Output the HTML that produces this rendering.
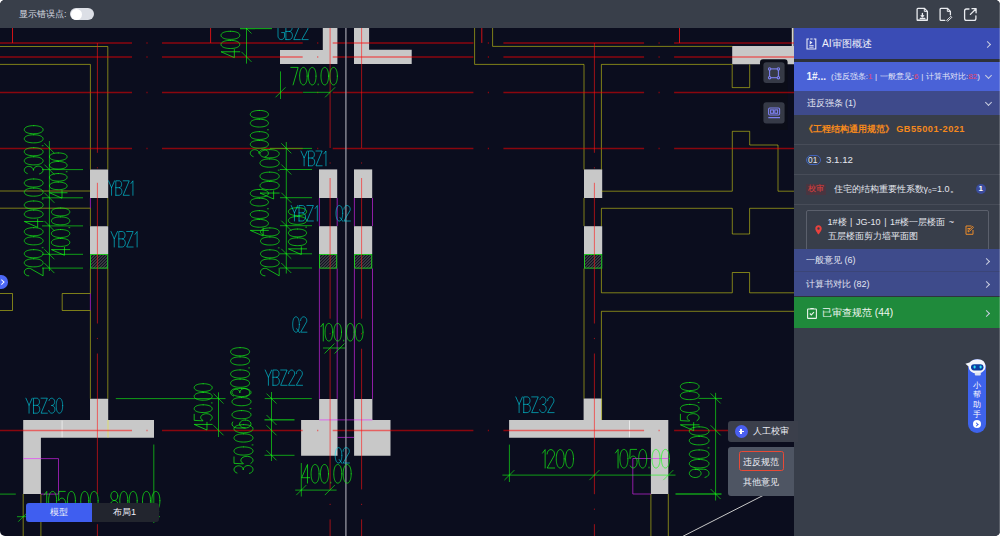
<!DOCTYPE html>
<html><head><meta charset="utf-8">
<style>
*{margin:0;padding:0;box-sizing:border-box}
html,body{width:1000px;height:536px;overflow:hidden;background:#fff}
body{font-family:"Liberation Sans",sans-serif;position:relative}
#app{position:absolute;left:0;top:0;width:1000px;height:536px;border-radius:5px;overflow:hidden;background:#0b0d1e}
.abs{position:absolute}
#top{left:0;top:0;width:1000px;height:28px;background:#393f4a}
#cad{left:0;top:0}
#panel{left:794px;top:28px;width:206px;height:508px;background:#383e4a}
.t{position:absolute;white-space:nowrap;line-height:1}
.chev{position:absolute;width:5px;height:5px;border-right:1.1px solid #c9cde0;border-top:1.1px solid #c9cde0;transform:rotate(45deg)}
.chevd{position:absolute;width:5px;height:5px;border-right:1.1px solid #c9cde0;border-bottom:1.1px solid #c9cde0;transform:rotate(45deg)}
.sep{position:absolute;left:0;width:206px;height:1px;background:#474c58}
</style></head><body>
<div id="app">
<svg id="cad" class="abs" width="1000" height="536" viewBox="0 0 1000 536">
<path d="M280 50 L322.8 50 L322.8 27 L337.4 27 L337.4 64.1 L280 64.1 Z" fill="#c8c8c8"/>
<path d="M354 27 L369.1 27 L369.1 49.7 L411.7 49.7 L411.7 64.1 L354 64.1 Z" fill="#c8c8c8"/>
<path d="M732.2 46 L795 46 L795 64.3 L732.2 64.3 Z" fill="#c8c8c8"/>
<line x1="792.7" y1="28" x2="792.7" y2="46" stroke="#d4d4cc" stroke-width="1.8"/>
<path d="M90 169.4 L108.2 169.4 L108.2 198 L90 198 Z" fill="#c8c8c8"/>
<path d="M90 226.2 L108.2 226.2 L108.2 254 L90 254 Z" fill="#c8c8c8"/>
<rect x="90" y="254" width="18.2" height="14.6" fill="#11131f"/>
<clipPath id="h90_254"><rect x="90" y="254" width="18.2" height="14.6"/></clipPath>
<path d="M60 268.6 L74.6 254 M63 268.6 L77.6 254 M66 268.6 L80.6 254 M69 268.6 L83.6 254 M72 268.6 L86.6 254 M75 268.6 L89.6 254 M78 268.6 L92.6 254 M81 268.6 L95.6 254 M84 268.6 L98.6 254 M87 268.6 L101.6 254 M90 268.6 L104.6 254 M93 268.6 L107.6 254 M96 268.6 L110.6 254 M99 268.6 L113.6 254 M102 268.6 L116.6 254 M105 268.6 L119.6 254 M108 268.6 L122.6 254 M111 268.6 L125.6 254 M114 268.6 L128.6 254 M117 268.6 L131.6 254 M120 268.6 L134.6 254 M123 268.6 L137.6 254 M126 268.6 L140.6 254 M129 268.6 L143.6 254" stroke="#74747a" stroke-width="0.75" clip-path="url(#h90_254)"/>
<rect x="90.5" y="254.5" width="17.2" height="13.6" fill="none" stroke="#22c422" stroke-width="1"/>
<path d="M319 169.4 L337.2 169.4 L337.2 198 L319 198 Z" fill="#c8c8c8"/>
<path d="M319 226.2 L337.2 226.2 L337.2 254 L319 254 Z" fill="#c8c8c8"/>
<rect x="319" y="254" width="18.2" height="14.6" fill="#11131f"/>
<clipPath id="h319_254"><rect x="319" y="254" width="18.2" height="14.6"/></clipPath>
<path d="M289 268.6 L303.6 254 M292 268.6 L306.6 254 M295 268.6 L309.6 254 M298 268.6 L312.6 254 M301 268.6 L315.6 254 M304 268.6 L318.6 254 M307 268.6 L321.6 254 M310 268.6 L324.6 254 M313 268.6 L327.6 254 M316 268.6 L330.6 254 M319 268.6 L333.6 254 M322 268.6 L336.6 254 M325 268.6 L339.6 254 M328 268.6 L342.6 254 M331 268.6 L345.6 254 M334 268.6 L348.6 254 M337 268.6 L351.6 254 M340 268.6 L354.6 254 M343 268.6 L357.6 254 M346 268.6 L360.6 254 M349 268.6 L363.6 254 M352 268.6 L366.6 254 M355 268.6 L369.6 254 M358 268.6 L372.6 254" stroke="#74747a" stroke-width="0.75" clip-path="url(#h319_254)"/>
<rect x="319.5" y="254.5" width="17.2" height="13.6" fill="none" stroke="#22c422" stroke-width="1"/>
<path d="M354 169.4 L372.2 169.4 L372.2 198 L354 198 Z" fill="#c8c8c8"/>
<path d="M354 226.2 L372.2 226.2 L372.2 254 L354 254 Z" fill="#c8c8c8"/>
<rect x="354" y="254" width="18.2" height="14.6" fill="#11131f"/>
<clipPath id="h354_254"><rect x="354" y="254" width="18.2" height="14.6"/></clipPath>
<path d="M324 268.6 L338.6 254 M327 268.6 L341.6 254 M330 268.6 L344.6 254 M333 268.6 L347.6 254 M336 268.6 L350.6 254 M339 268.6 L353.6 254 M342 268.6 L356.6 254 M345 268.6 L359.6 254 M348 268.6 L362.6 254 M351 268.6 L365.6 254 M354 268.6 L368.6 254 M357 268.6 L371.6 254 M360 268.6 L374.6 254 M363 268.6 L377.6 254 M366 268.6 L380.6 254 M369 268.6 L383.6 254 M372 268.6 L386.6 254 M375 268.6 L389.6 254 M378 268.6 L392.6 254 M381 268.6 L395.6 254 M384 268.6 L398.6 254 M387 268.6 L401.6 254 M390 268.6 L404.6 254 M393 268.6 L407.6 254" stroke="#74747a" stroke-width="0.75" clip-path="url(#h354_254)"/>
<rect x="354.5" y="254.5" width="17.2" height="13.6" fill="none" stroke="#22c422" stroke-width="1"/>
<path d="M584 169.4 L602.2 169.4 L602.2 198 L584 198 Z" fill="#c8c8c8"/>
<path d="M584 226.2 L602.2 226.2 L602.2 254 L584 254 Z" fill="#c8c8c8"/>
<rect x="584" y="254" width="18.2" height="14.6" fill="#11131f"/>
<clipPath id="h584_254"><rect x="584" y="254" width="18.2" height="14.6"/></clipPath>
<path d="M554 268.6 L568.6 254 M557 268.6 L571.6 254 M560 268.6 L574.6 254 M563 268.6 L577.6 254 M566 268.6 L580.6 254 M569 268.6 L583.6 254 M572 268.6 L586.6 254 M575 268.6 L589.6 254 M578 268.6 L592.6 254 M581 268.6 L595.6 254 M584 268.6 L598.6 254 M587 268.6 L601.6 254 M590 268.6 L604.6 254 M593 268.6 L607.6 254 M596 268.6 L610.6 254 M599 268.6 L613.6 254 M602 268.6 L616.6 254 M605 268.6 L619.6 254 M608 268.6 L622.6 254 M611 268.6 L625.6 254 M614 268.6 L628.6 254 M617 268.6 L631.6 254 M620 268.6 L634.6 254 M623 268.6 L637.6 254" stroke="#74747a" stroke-width="0.75" clip-path="url(#h584_254)"/>
<rect x="584.5" y="254.5" width="17.2" height="13.6" fill="none" stroke="#22c422" stroke-width="1"/>
<path d="M90 398.7 L108.2 398.7 L108.2 420 L154 420 L154 437.7 L40.9 437.7 L40.9 494.1 L23.2 494.1 L23.2 420 L90 420 Z" fill="#c8c8c8"/>
<path d="M319.1 398.9 L337.5 398.9 L337.5 455.7 L301.1 455.7 L301.1 419.9 L319.1 419.9 Z" fill="#c8c8c8"/>
<path d="M354.1 398.9 L372.4 398.9 L372.4 419.9 L390.5 419.9 L390.5 455.7 L354.1 455.7 Z" fill="#c8c8c8"/>
<path d="M583.6 398.6 L601.6 398.6 L601.6 420 L668.3 420 L668.3 494 L650.9 494 L650.9 437.7 L509.1 437.7 L509.1 420 L583.6 420 Z" fill="#c8c8c8"/>
<path d="M760 130 V62.3 Q760 59.3 763 59.3 H784.6 Q787.6 59.3 787.6 62.3 V130 Z" fill="#0b0d18"/>
<line x1="62.1" y1="420.5" x2="62.1" y2="437.2" stroke="#ececec" stroke-width="0.9"/>
<line x1="629.5" y1="420.5" x2="629.5" y2="437.2" stroke="#ececec" stroke-width="0.9"/>
<path d="M0 46.5 L107.8 46.5 L107.8 169.5" fill="none" stroke="rgba(240,240,20,0.5)" stroke-width="1"/>
<path d="M107.8 198 L107.8 226" fill="none" stroke="rgba(240,240,20,0.5)" stroke-width="1"/>
<path d="M107.8 268.5 L107.8 398.7" fill="none" stroke="rgba(240,240,20,0.5)" stroke-width="1"/>
<path d="M0 64.4 L90.4 64.4 L90.4 169.5" fill="none" stroke="rgba(240,240,20,0.5)" stroke-width="1"/>
<path d="M0 191 L90.4 191" fill="none" stroke="rgba(240,240,20,0.5)" stroke-width="1"/>
<path d="M0 208.2 L90.4 208.2 L90.4 226" fill="none" stroke="rgba(240,240,20,0.5)" stroke-width="1"/>
<path d="M90.4 268.5 L90.4 293.5 L62.2 293.5 L62.2 310.5 L90.4 310.5 L90.4 398.7" fill="none" stroke="rgba(240,240,20,0.5)" stroke-width="1"/>
<path d="M0 293.5 L12.5 293.5 L12.5 310.5 L0 310.5" fill="none" stroke="rgba(240,240,20,0.5)" stroke-width="1"/>
<path d="M108 420 L108 437.7" fill="none" stroke="rgba(240,240,20,0.5)" stroke-width="1"/>
<path d="M23.2 494 L23.2 536" fill="none" stroke="rgba(240,240,20,0.5)" stroke-width="1"/>
<path d="M40.9 494 L40.9 536" fill="none" stroke="rgba(240,240,20,0.5)" stroke-width="1"/>
<path d="M474.6 28 L474.6 64.4 L584 64.4 L584 169.5" fill="none" stroke="rgba(240,240,20,0.5)" stroke-width="1"/>
<path d="M584 198 L584 226" fill="none" stroke="rgba(240,240,20,0.5)" stroke-width="1"/>
<path d="M584 268.5 L584 398.6" fill="none" stroke="rgba(240,240,20,0.5)" stroke-width="1"/>
<path d="M492.6 28 L492.6 46.4 L732.2 46.4" fill="none" stroke="rgba(240,240,20,0.5)" stroke-width="1"/>
<path d="M601.4 169.5 L601.4 64.4 L732.2 64.4 L732.2 87.6 L749.7 87.6 L749.7 64.4" fill="none" stroke="rgba(240,240,20,0.5)" stroke-width="1"/>
<path d="M601.4 191.2 L732.3 191.2 L732.3 131.3 L749.7 131.3 L749.7 145 L778 145 L778 191.2 L794 191.2" fill="none" stroke="rgba(240,240,20,0.5)" stroke-width="1"/>
<path d="M601.4 226 L601.4 208.3 L732.3 208.3 L732.3 234 L749.6 234 L749.6 208.3 L794 208.3" fill="none" stroke="rgba(240,240,20,0.5)" stroke-width="1"/>
<path d="M601.4 268.5 L601.4 292.8 L732.3 292.8 L732.3 272.5 L749.6 272.5 L749.6 292.8 L794 292.8" fill="none" stroke="rgba(240,240,20,0.5)" stroke-width="1"/>
<path d="M794 311.3 L601.4 311.3 L601.4 398.6" fill="none" stroke="rgba(240,240,20,0.5)" stroke-width="1"/>
<path d="M601.6 398.6 L601.6 420" fill="none" stroke="rgba(240,240,20,0.5)" stroke-width="1"/>
<path d="M650.9 494 L650.9 536" fill="none" stroke="rgba(240,240,20,0.5)" stroke-width="1"/>
<path d="M668.3 494 L668.3 536" fill="none" stroke="rgba(240,240,20,0.5)" stroke-width="1"/>
<path d="M90.4 198 L90.4 208.2" fill="none" stroke="rgba(230,40,255,0.6)" stroke-width="1"/>
<path d="M90.4 293.5 L90.4 310.5" fill="none" stroke="rgba(230,40,255,0.6)" stroke-width="1"/>
<path d="M319.4 198 L319.4 226" fill="none" stroke="rgba(230,40,255,0.6)" stroke-width="1"/>
<path d="M319.4 268.5 L319.4 398.9" fill="none" stroke="rgba(230,40,255,0.6)" stroke-width="1"/>
<path d="M337.2 198 L337.2 226" fill="none" stroke="rgba(230,40,255,0.6)" stroke-width="1"/>
<path d="M337.2 268.5 L337.2 398.9" fill="none" stroke="rgba(230,40,255,0.6)" stroke-width="1"/>
<path d="M354.4 198 L354.4 226" fill="none" stroke="rgba(230,40,255,0.6)" stroke-width="1"/>
<path d="M354.4 268.5 L354.4 398.9" fill="none" stroke="rgba(230,40,255,0.6)" stroke-width="1"/>
<path d="M372.5 198 L372.5 226" fill="none" stroke="rgba(230,40,255,0.6)" stroke-width="1"/>
<path d="M372.5 268.5 L372.5 398.9" fill="none" stroke="rgba(230,40,255,0.6)" stroke-width="1"/>
<path d="M23.2 458.6 L58.5 458.6 L58.5 494.1 L40.9 494.1" fill="none" stroke="rgba(230,40,255,0.6)" stroke-width="1"/>
<path d="M319.4 419.9 L372.4 419.9" fill="none" stroke="rgba(230,40,255,0.6)" stroke-width="1"/>
<path d="M337.5 437.4 L354 437.4" fill="none" stroke="rgba(230,40,255,0.6)" stroke-width="1"/>
<path d="M668.3 458.5 L632.8 458.5 L632.8 494 L650.9 494" fill="none" stroke="rgba(230,40,255,0.6)" stroke-width="1"/>
<path d="M0 42.9 H132 M146.4 42.9 H147.6 M162 42.9 H302.7 M317.1 42.9 H318.3 M332.7 42.9 H473.4 M487.8 42.9 H489 M503.4 42.9 H644.1 M658.5 42.9 H659.7 M674.1 42.9 H794" stroke="rgba(255,0,0,0.52)" stroke-width="1.5" fill="none"/>
<path d="M0 56.9 H132 M146.4 56.9 H147.6 M162 56.9 H302.7 M317.1 56.9 H318.3 M332.7 56.9 H473.4 M487.8 56.9 H489 M503.4 56.9 H644.1 M658.5 56.9 H659.7 M674.1 56.9 H794" stroke="rgba(255,0,0,0.52)" stroke-width="1.5" fill="none"/>
<path d="M0 92.4 H132 M146.4 92.4 H147.6 M162 92.4 H302.7 M317.1 92.4 H318.3 M332.7 92.4 H473.4 M487.8 92.4 H489 M503.4 92.4 H644.1 M658.5 92.4 H659.7 M674.1 92.4 H794" stroke="rgba(255,0,0,0.52)" stroke-width="1.5" fill="none"/>
<path d="M0 148.4 H132 M146.4 148.4 H147.6 M162 148.4 H302.7 M317.1 148.4 H318.3 M332.7 148.4 H473.4 M487.8 148.4 H489 M503.4 148.4 H644.1 M658.5 148.4 H659.7 M674.1 148.4 H794" stroke="rgba(255,0,0,0.52)" stroke-width="1.5" fill="none"/>
<path d="M0 430.4 H132 M146.4 430.4 H147.6 M162 430.4 H302.7 M317.1 430.4 H318.3 M332.7 430.4 H473.4 M487.8 430.4 H489 M503.4 430.4 H644.1 M658.5 430.4 H659.7 M674.1 430.4 H794" stroke="rgba(255,0,0,0.52)" stroke-width="1.5" fill="none"/>
<line x1="12.5" y1="28" x2="12.5" y2="42.9" stroke="rgba(255,20,20,0.8)" stroke-width="1"/>
<line x1="210.6" y1="28" x2="210.6" y2="42.9" stroke="rgba(255,20,20,0.8)" stroke-width="1"/>
<line x1="481.8" y1="28" x2="481.8" y2="42.9" stroke="rgba(255,20,20,0.8)" stroke-width="1"/>
<line x1="679.5" y1="28" x2="679.5" y2="42.9" stroke="rgba(255,20,20,0.8)" stroke-width="1"/>
<path d="M97.4 43 V152.8 M97.4 167.2 V168.4 M97.4 182.8 V323.5 M97.4 337.9 V339.1 M97.4 353.5 V494.2 M97.4 508.6 V509.8 M97.4 524.2 V536" stroke="rgba(255,20,20,0.6)" stroke-width="1" fill="none"/>
<path d="M594.4 43 V152.8 M594.4 167.2 V168.4 M594.4 182.8 V323.5 M594.4 337.9 V339.1 M594.4 353.5 V494.2 M594.4 508.6 V509.8 M594.4 524.2 V536" stroke="rgba(255,20,20,0.6)" stroke-width="1" fill="none"/>
<path d="M330.1 28 V148 M330.1 162.4 V163.6 M330.1 178 V318.7 M330.1 333.1 V334.3 M330.1 348.7 V489.4 M330.1 503.8 V505 M330.1 519.4 V536" stroke="rgba(255,20,20,0.6)" stroke-width="1" fill="none"/>
<path d="M361.6 28 V148 M361.6 162.4 V163.6 M361.6 178 V318.7 M361.6 333.1 V334.3 M361.6 348.7 V489.4 M361.6 503.8 V505 M361.6 519.4 V536" stroke="rgba(255,20,20,0.6)" stroke-width="1" fill="none"/>
<line x1="345.9" y1="28" x2="345.9" y2="536" stroke="#9696a2" stroke-width="1.3"/>
<line x1="682.5" y1="536.5" x2="763" y2="495.5" stroke="#c8c8c8" stroke-width="1"/>
<line x1="49.4" y1="141" x2="49.4" y2="271" stroke="rgba(20,255,20,0.6)" stroke-width="1"/>
<line x1="44.4" y1="143.3" x2="54.4" y2="153.3" stroke="rgba(20,255,20,0.6)" stroke-width="1"/>
<line x1="44.4" y1="164.6" x2="54.4" y2="174.6" stroke="rgba(20,255,20,0.6)" stroke-width="1"/>
<line x1="44.4" y1="192.8" x2="54.4" y2="202.8" stroke="rgba(20,255,20,0.6)" stroke-width="1"/>
<line x1="44.4" y1="220.9" x2="54.4" y2="230.9" stroke="rgba(20,255,20,0.6)" stroke-width="1"/>
<line x1="44.4" y1="249.3" x2="54.4" y2="259.3" stroke="rgba(20,255,20,0.6)" stroke-width="1"/>
<line x1="44.4" y1="263.1" x2="54.4" y2="273.1" stroke="rgba(20,255,20,0.6)" stroke-width="1"/>
<line x1="42" y1="169.6" x2="83" y2="169.6" stroke="rgba(20,255,20,0.6)" stroke-width="1"/>
<line x1="42" y1="197.8" x2="83" y2="197.8" stroke="rgba(20,255,20,0.6)" stroke-width="1"/>
<line x1="42" y1="225.9" x2="83" y2="225.9" stroke="rgba(20,255,20,0.6)" stroke-width="1"/>
<line x1="42" y1="254.3" x2="83" y2="254.3" stroke="rgba(20,255,20,0.6)" stroke-width="1"/>
<line x1="42" y1="268.1" x2="83" y2="268.1" stroke="rgba(20,255,20,0.6)" stroke-width="1"/>
<path d="M27.27 173.5 L26.18 173.03 L25.29 172.35 L24.66 171.49 L24.34 170.53 L24.35 169.53 L24.68 168.58 L25.32 167.73 L26.22 167.05 L27.32 166.59 L28.52 166.39 L29.74 166.46 L30.9 166.8 L31.9 167.38 L32.67 168.15 L33.16 169.06 L33.32 170.05 M33.51 170.05 L33.68 169.03 L34.15 168.08 L34.92 167.26 L35.91 166.63 L37.07 166.24 L38.31 166.1 L39.55 166.24 L40.7 166.63 L41.7 167.26 L42.46 168.08 L42.94 169.03 L43.1 170.05 L42.94 171.07 L42.46 172.03 L41.7 172.84 L40.7 173.47 L39.55 173.87 M33.7 156.8 L35.11 156.83 L36.37 156.93 L37.55 157.09 L38.63 157.31 L39.62 157.58 L40.51 157.92 L41.28 158.3 L41.92 158.72 L42.43 159.19 L42.8 159.69 L43.03 160.24 L43.1 160.84 L43.03 161.45 L42.8 161.99 L42.43 162.5 L41.92 162.96 L41.28 163.39 L40.51 163.77 L39.62 164.1 L38.63 164.38 L37.55 164.6 L36.37 164.76 L35.11 164.85 L33.7 164.89 L32.29 164.85 L31.03 164.76 L29.85 164.6 L28.77 164.38 L27.78 164.1 L26.89 163.77 L26.12 163.39 L25.48 162.96 L24.97 162.5 L24.6 161.99 L24.37 161.45 L24.3 160.84 L24.37 160.24 L24.6 159.69 L24.97 159.19 L25.48 158.72 L26.12 158.3 L26.89 157.92 L27.78 157.58 L28.77 157.31 L29.85 157.09 L31.03 156.93 L32.29 156.83 L33.7 156.8 M33.7 147.69 L35.11 147.72 L36.37 147.82 L37.55 147.97 L38.63 148.19 L39.62 148.47 L40.51 148.8 L41.28 149.18 L41.92 149.61 L42.43 150.08 L42.8 150.58 L43.03 151.12 L43.1 151.73 L43.03 152.34 L42.8 152.88 L42.43 153.38 L41.92 153.85 L41.28 154.28 L40.51 154.66 L39.62 154.99 L38.63 155.27 L37.55 155.48 L36.37 155.64 L35.11 155.74 L33.7 155.77 L32.29 155.74 L31.03 155.64 L29.85 155.48 L28.77 155.27 L27.78 154.99 L26.89 154.66 L26.12 154.28 L25.48 153.85 L24.97 153.38 L24.6 152.88 L24.37 152.34 L24.3 151.73 L24.37 151.12 L24.6 150.58 L24.97 150.08 L25.48 149.61 L26.12 149.18 L26.89 148.8 L27.78 148.47 L28.77 148.19 L29.85 147.97 L31.03 147.82 L32.29 147.72 L33.7 147.69 M42.16 145.72 L43.1 145.72 M33.7 134.78 L35.11 134.82 L36.37 134.91 L37.55 135.07 L38.63 135.29 L39.62 135.57 L40.51 135.9 L41.28 136.28 L41.92 136.7 L42.43 137.17 L42.8 137.68 L43.03 138.22 L43.1 138.83 L43.03 139.43 L42.8 139.97 L42.43 140.48 L41.92 140.95 L41.28 141.37 L40.51 141.75 L39.62 142.08 L38.63 142.36 L37.55 142.58 L36.37 142.74 L35.11 142.84 L33.7 142.87 L32.29 142.84 L31.03 142.74 L29.85 142.58 L28.77 142.36 L27.78 142.08 L26.89 141.75 L26.12 141.37 L25.48 140.95 L24.97 140.48 L24.6 139.97 L24.37 139.43 L24.3 138.83 L24.37 138.22 L24.6 137.68 L24.97 137.17 L25.48 136.7 L26.12 136.28 L26.89 135.9 L27.78 135.57 L28.77 135.29 L29.85 135.07 L31.03 134.91 L32.29 134.82 L33.7 134.78 M33.7 125.67 L35.11 125.7 L36.37 125.8 L37.55 125.96 L38.63 126.18 L39.62 126.45 L40.51 126.78 L41.28 127.16 L41.92 127.59 L42.43 128.06 L42.8 128.56 L43.03 129.1 L43.1 129.71 L43.03 130.32 L42.8 130.86 L42.43 131.36 L41.92 131.83 L41.28 132.26 L40.51 132.64 L39.62 132.97 L38.63 133.25 L37.55 133.47 L36.37 133.62 L35.11 133.72 L33.7 133.75 L32.29 133.72 L31.03 133.62 L29.85 133.47 L28.77 133.25 L27.78 132.97 L26.89 132.64 L26.12 132.26 L25.48 131.83 L24.97 131.36 L24.6 130.86 L24.37 130.32 L24.3 129.71 L24.37 129.1 L24.6 128.56 L24.97 128.06 L25.48 127.59 L26.12 127.16 L26.89 126.78 L27.78 126.45 L28.77 126.18 L29.85 125.96 L31.03 125.8 L32.29 125.7 L33.7 125.67" fill="none" stroke="rgba(20,255,20,0.68)" stroke-width="1.0" stroke-linejoin="round" stroke-linecap="round"/>
<path d="M43.1 221.47 L24.3 221.47 L37.65 227.3 L37.65 219.22 M33.7 210.1 L35.11 210.13 L36.37 210.23 L37.55 210.39 L38.63 210.61 L39.62 210.88 L40.51 211.22 L41.28 211.6 L41.92 212.02 L42.43 212.49 L42.8 212.99 L43.03 213.54 L43.1 214.14 L43.03 214.75 L42.8 215.29 L42.43 215.8 L41.92 216.26 L41.28 216.69 L40.51 217.07 L39.62 217.4 L38.63 217.68 L37.55 217.9 L36.37 218.06 L35.11 218.15 L33.7 218.19 L32.29 218.15 L31.03 218.06 L29.85 217.9 L28.77 217.68 L27.78 217.4 L26.89 217.07 L26.12 216.69 L25.48 216.26 L24.97 215.8 L24.6 215.29 L24.37 214.75 L24.3 214.14 L24.37 213.54 L24.6 212.99 L24.97 212.49 L25.48 212.02 L26.12 211.6 L26.89 211.22 L27.78 210.88 L28.77 210.61 L29.85 210.39 L31.03 210.23 L32.29 210.13 L33.7 210.1 M33.7 200.99 L35.11 201.02 L36.37 201.12 L37.55 201.27 L38.63 201.49 L39.62 201.77 L40.51 202.1 L41.28 202.48 L41.92 202.91 L42.43 203.38 L42.8 203.88 L43.03 204.42 L43.1 205.03 L43.03 205.64 L42.8 206.18 L42.43 206.68 L41.92 207.15 L41.28 207.58 L40.51 207.96 L39.62 208.29 L38.63 208.57 L37.55 208.78 L36.37 208.94 L35.11 209.04 L33.7 209.07 L32.29 209.04 L31.03 208.94 L29.85 208.78 L28.77 208.57 L27.78 208.29 L26.89 207.96 L26.12 207.58 L25.48 207.15 L24.97 206.68 L24.6 206.18 L24.37 205.64 L24.3 205.03 L24.37 204.42 L24.6 203.88 L24.97 203.38 L25.48 202.91 L26.12 202.48 L26.89 202.1 L27.78 201.77 L28.77 201.49 L29.85 201.27 L31.03 201.12 L32.29 201.02 L33.7 200.99 M42.16 199.02 L43.1 199.02 M33.7 188.08 L35.11 188.12 L36.37 188.21 L37.55 188.37 L38.63 188.59 L39.62 188.87 L40.51 189.2 L41.28 189.58 L41.92 190 L42.43 190.47 L42.8 190.98 L43.03 191.52 L43.1 192.13 L43.03 192.73 L42.8 193.27 L42.43 193.78 L41.92 194.25 L41.28 194.67 L40.51 195.05 L39.62 195.38 L38.63 195.66 L37.55 195.88 L36.37 196.04 L35.11 196.14 L33.7 196.17 L32.29 196.14 L31.03 196.04 L29.85 195.88 L28.77 195.66 L27.78 195.38 L26.89 195.05 L26.12 194.67 L25.48 194.25 L24.97 193.78 L24.6 193.27 L24.37 192.73 L24.3 192.13 L24.37 191.52 L24.6 190.98 L24.97 190.47 L25.48 190 L26.12 189.58 L26.89 189.2 L27.78 188.87 L28.77 188.59 L29.85 188.37 L31.03 188.21 L32.29 188.12 L33.7 188.08 M33.7 178.97 L35.11 179 L36.37 179.1 L37.55 179.26 L38.63 179.48 L39.62 179.75 L40.51 180.08 L41.28 180.46 L41.92 180.89 L42.43 181.36 L42.8 181.86 L43.03 182.4 L43.1 183.01 L43.03 183.62 L42.8 184.16 L42.43 184.66 L41.92 185.13 L41.28 185.56 L40.51 185.94 L39.62 186.27 L38.63 186.55 L37.55 186.77 L36.37 186.92 L35.11 187.02 L33.7 187.05 L32.29 187.02 L31.03 186.92 L29.85 186.77 L28.77 186.55 L27.78 186.27 L26.89 185.94 L26.12 185.56 L25.48 185.13 L24.97 184.66 L24.6 184.16 L24.37 183.62 L24.3 183.01 L24.37 182.4 L24.6 181.86 L24.97 181.36 L25.48 180.89 L26.12 180.46 L26.89 180.08 L27.78 179.75 L28.77 179.48 L29.85 179.26 L31.03 179.1 L32.29 179 L33.7 178.97" fill="none" stroke="rgba(20,255,20,0.68)" stroke-width="1.0" stroke-linejoin="round" stroke-linecap="round"/>
<path d="M28.81 275.81 L27.61 275.68 L26.5 275.28 L25.56 274.66 L24.85 273.84 L24.42 272.9 L24.3 271.9 L24.51 270.91 L25.03 270 L25.82 269.24 L26.82 268.68 L27.97 268.36 L29.18 268.3 L30.36 268.52 L43.1 275.81 L43.1 268.1 M33.7 258.8 L35.11 258.83 L36.37 258.93 L37.55 259.09 L38.63 259.31 L39.62 259.58 L40.51 259.92 L41.28 260.3 L41.92 260.72 L42.43 261.19 L42.8 261.69 L43.03 262.24 L43.1 262.84 L43.03 263.45 L42.8 263.99 L42.43 264.5 L41.92 264.96 L41.28 265.39 L40.51 265.77 L39.62 266.1 L38.63 266.38 L37.55 266.6 L36.37 266.76 L35.11 266.85 L33.7 266.89 L32.29 266.85 L31.03 266.76 L29.85 266.6 L28.77 266.38 L27.78 266.1 L26.89 265.77 L26.12 265.39 L25.48 264.96 L24.97 264.5 L24.6 263.99 L24.37 263.45 L24.3 262.84 L24.37 262.24 L24.6 261.69 L24.97 261.19 L25.48 260.72 L26.12 260.3 L26.89 259.92 L27.78 259.58 L28.77 259.31 L29.85 259.09 L31.03 258.93 L32.29 258.83 L33.7 258.8 M33.7 249.69 L35.11 249.72 L36.37 249.82 L37.55 249.97 L38.63 250.19 L39.62 250.47 L40.51 250.8 L41.28 251.18 L41.92 251.61 L42.43 252.08 L42.8 252.58 L43.03 253.12 L43.1 253.73 L43.03 254.34 L42.8 254.88 L42.43 255.38 L41.92 255.85 L41.28 256.28 L40.51 256.66 L39.62 256.99 L38.63 257.27 L37.55 257.48 L36.37 257.64 L35.11 257.74 L33.7 257.77 L32.29 257.74 L31.03 257.64 L29.85 257.48 L28.77 257.27 L27.78 256.99 L26.89 256.66 L26.12 256.28 L25.48 255.85 L24.97 255.38 L24.6 254.88 L24.37 254.34 L24.3 253.73 L24.37 253.12 L24.6 252.58 L24.97 252.08 L25.48 251.61 L26.12 251.18 L26.89 250.8 L27.78 250.47 L28.77 250.19 L29.85 249.97 L31.03 249.82 L32.29 249.72 L33.7 249.69 M42.16 247.72 L43.1 247.72 M33.7 236.78 L35.11 236.82 L36.37 236.91 L37.55 237.07 L38.63 237.29 L39.62 237.57 L40.51 237.9 L41.28 238.28 L41.92 238.7 L42.43 239.17 L42.8 239.68 L43.03 240.22 L43.1 240.83 L43.03 241.43 L42.8 241.97 L42.43 242.48 L41.92 242.95 L41.28 243.37 L40.51 243.75 L39.62 244.08 L38.63 244.36 L37.55 244.58 L36.37 244.74 L35.11 244.84 L33.7 244.87 L32.29 244.84 L31.03 244.74 L29.85 244.58 L28.77 244.36 L27.78 244.08 L26.89 243.75 L26.12 243.37 L25.48 242.95 L24.97 242.48 L24.6 241.97 L24.37 241.43 L24.3 240.83 L24.37 240.22 L24.6 239.68 L24.97 239.17 L25.48 238.7 L26.12 238.28 L26.89 237.9 L27.78 237.57 L28.77 237.29 L29.85 237.07 L31.03 236.91 L32.29 236.82 L33.7 236.78 M33.7 227.67 L35.11 227.7 L36.37 227.8 L37.55 227.96 L38.63 228.18 L39.62 228.45 L40.51 228.78 L41.28 229.16 L41.92 229.59 L42.43 230.06 L42.8 230.56 L43.03 231.1 L43.1 231.71 L43.03 232.32 L42.8 232.86 L42.43 233.36 L41.92 233.83 L41.28 234.26 L40.51 234.64 L39.62 234.97 L38.63 235.25 L37.55 235.47 L36.37 235.62 L35.11 235.72 L33.7 235.75 L32.29 235.72 L31.03 235.62 L29.85 235.47 L28.77 235.25 L27.78 234.97 L26.89 234.64 L26.12 234.26 L25.48 233.83 L24.97 233.36 L24.6 232.86 L24.37 232.32 L24.3 231.71 L24.37 231.1 L24.6 230.56 L24.97 230.06 L25.48 229.59 L26.12 229.16 L26.89 228.78 L27.78 228.45 L28.77 228.18 L29.85 227.96 L31.03 227.8 L32.29 227.7 L33.7 227.67" fill="none" stroke="rgba(20,255,20,0.68)" stroke-width="1.0" stroke-linejoin="round" stroke-linecap="round"/>
<path d="M67.1 192.74 L49.5 192.74 L62 198.2 L62 190.63 M58.3 182.1 L59.62 182.13 L60.8 182.22 L61.9 182.37 L62.92 182.57 L63.85 182.83 L64.67 183.14 L65.4 183.5 L66 183.9 L66.48 184.34 L66.82 184.81 L67.03 185.31 L67.1 185.88 L67.03 186.45 L66.82 186.96 L66.48 187.43 L66 187.87 L65.4 188.27 L64.67 188.62 L63.85 188.93 L62.92 189.19 L61.9 189.4 L60.8 189.55 L59.62 189.64 L58.3 189.67 L56.98 189.64 L55.8 189.55 L54.7 189.4 L53.68 189.19 L52.75 188.93 L51.93 188.62 L51.2 188.27 L50.6 187.87 L50.12 187.43 L49.78 186.96 L49.57 186.45 L49.5 185.88 L49.57 185.31 L49.78 184.81 L50.12 184.34 L50.6 183.9 L51.2 183.5 L51.93 183.14 L52.75 182.83 L53.68 182.57 L54.7 182.37 L55.8 182.22 L56.98 182.13 L58.3 182.1 M58.3 173.57 L59.62 173.6 L60.8 173.69 L61.9 173.84 L62.92 174.04 L63.85 174.3 L64.67 174.61 L65.4 174.97 L66 175.37 L66.48 175.8 L66.82 176.27 L67.03 176.78 L67.1 177.35 L67.03 177.92 L66.82 178.43 L66.48 178.9 L66 179.34 L65.4 179.74 L64.67 180.09 L63.85 180.4 L62.92 180.66 L61.9 180.87 L60.8 181.01 L59.62 181.1 L58.3 181.14 L56.98 181.1 L55.8 181.01 L54.7 180.87 L53.68 180.66 L52.75 180.4 L51.93 180.09 L51.2 179.74 L50.6 179.34 L50.12 178.9 L49.78 178.43 L49.57 177.92 L49.5 177.35 L49.57 176.78 L49.78 176.27 L50.12 175.8 L50.6 175.37 L51.2 174.97 L51.93 174.61 L52.75 174.3 L53.68 174.04 L54.7 173.84 L55.8 173.69 L56.98 173.6 L58.3 173.57 M66.22 171.72 L67.1 171.72 M58.3 161.49 L59.62 161.52 L60.8 161.61 L61.9 161.76 L62.92 161.96 L63.85 162.22 L64.67 162.53 L65.4 162.89 L66 163.28 L66.48 163.72 L66.82 164.19 L67.03 164.7 L67.1 165.27 L67.03 165.84 L66.82 166.35 L66.48 166.82 L66 167.26 L65.4 167.66 L64.67 168.01 L63.85 168.32 L62.92 168.58 L61.9 168.79 L60.8 168.93 L59.62 169.02 L58.3 169.05 L56.98 169.02 L55.8 168.93 L54.7 168.79 L53.68 168.58 L52.75 168.32 L51.93 168.01 L51.2 167.66 L50.6 167.26 L50.12 166.82 L49.78 166.35 L49.57 165.84 L49.5 165.27 L49.57 164.7 L49.78 164.19 L50.12 163.72 L50.6 163.28 L51.2 162.89 L51.93 162.53 L52.75 162.22 L53.68 161.96 L54.7 161.76 L55.8 161.61 L56.98 161.52 L58.3 161.49 M58.3 152.95 L59.62 152.98 L60.8 153.07 L61.9 153.22 L62.92 153.43 L63.85 153.69 L64.67 154 L65.4 154.35 L66 154.75 L66.48 155.19 L66.82 155.66 L67.03 156.17 L67.1 156.74 L67.03 157.31 L66.82 157.81 L66.48 158.29 L66 158.72 L65.4 159.12 L64.67 159.48 L63.85 159.79 L62.92 160.05 L61.9 160.25 L60.8 160.4 L59.62 160.49 L58.3 160.52 L56.98 160.49 L55.8 160.4 L54.7 160.25 L53.68 160.05 L52.75 159.79 L51.93 159.48 L51.2 159.12 L50.6 158.72 L50.12 158.29 L49.78 157.81 L49.57 157.31 L49.5 156.74 L49.57 156.17 L49.78 155.66 L50.12 155.19 L50.6 154.75 L51.2 154.35 L51.93 154 L52.75 153.69 L53.68 153.43 L54.7 153.22 L55.8 153.07 L56.98 152.98 L58.3 152.95" fill="none" stroke="rgba(20,255,20,0.68)" stroke-width="1.0" stroke-linejoin="round" stroke-linecap="round"/>
<path d="M69.8 249.6 L51.4 249.6 L64.46 255.3 L64.46 247.39 M60.6 238.47 L61.98 238.5 L63.22 238.59 L64.36 238.75 L65.43 238.96 L66.4 239.23 L67.26 239.56 L68.02 239.93 L68.65 240.35 L69.15 240.8 L69.51 241.3 L69.73 241.83 L69.8 242.42 L69.73 243.02 L69.51 243.55 L69.15 244.04 L68.65 244.5 L68.02 244.92 L67.26 245.29 L66.4 245.61 L65.43 245.88 L64.36 246.1 L63.22 246.25 L61.98 246.35 L60.6 246.38 L59.22 246.35 L57.98 246.25 L56.84 246.1 L55.77 245.88 L54.8 245.61 L53.94 245.29 L53.18 244.92 L52.55 244.5 L52.05 244.04 L51.69 243.55 L51.47 243.02 L51.4 242.42 L51.47 241.83 L51.69 241.3 L52.05 240.8 L52.55 240.35 L53.18 239.93 L53.94 239.56 L54.8 239.23 L55.77 238.96 L56.84 238.75 L57.98 238.59 L59.22 238.5 L60.6 238.47 M60.6 229.55 L61.98 229.58 L63.22 229.67 L64.36 229.83 L65.43 230.04 L66.4 230.31 L67.26 230.64 L68.02 231.01 L68.65 231.43 L69.15 231.88 L69.51 232.38 L69.73 232.91 L69.8 233.5 L69.73 234.1 L69.51 234.63 L69.15 235.12 L68.65 235.58 L68.02 236 L67.26 236.37 L66.4 236.69 L65.43 236.96 L64.36 237.18 L63.22 237.33 L61.98 237.43 L60.6 237.46 L59.22 237.43 L57.98 237.33 L56.84 237.18 L55.77 236.96 L54.8 236.69 L53.94 236.37 L53.18 236 L52.55 235.58 L52.05 235.12 L51.69 234.63 L51.47 234.1 L51.4 233.5 L51.47 232.91 L51.69 232.38 L52.05 231.88 L52.55 231.43 L53.18 231.01 L53.94 230.64 L54.8 230.31 L55.77 230.04 L56.84 229.83 L57.98 229.67 L59.22 229.58 L60.6 229.55 M68.88 227.62 L69.8 227.62 M60.6 216.92 L61.98 216.95 L63.22 217.04 L64.36 217.2 L65.43 217.41 L66.4 217.68 L67.26 218.01 L68.02 218.38 L68.65 218.8 L69.15 219.25 L69.51 219.75 L69.73 220.28 L69.8 220.87 L69.73 221.47 L69.51 222 L69.15 222.49 L68.65 222.95 L68.02 223.37 L67.26 223.74 L66.4 224.06 L65.43 224.33 L64.36 224.55 L63.22 224.7 L61.98 224.8 L60.6 224.83 L59.22 224.8 L57.98 224.7 L56.84 224.55 L55.77 224.33 L54.8 224.06 L53.94 223.74 L53.18 223.37 L52.55 222.95 L52.05 222.49 L51.69 222 L51.47 221.47 L51.4 220.87 L51.47 220.28 L51.69 219.75 L52.05 219.25 L52.55 218.8 L53.18 218.38 L53.94 218.01 L54.8 217.68 L55.77 217.41 L56.84 217.2 L57.98 217.04 L59.22 216.95 L60.6 216.92 M60.6 208 L61.98 208.03 L63.22 208.12 L64.36 208.28 L65.43 208.49 L66.4 208.76 L67.26 209.09 L68.02 209.46 L68.65 209.88 L69.15 210.33 L69.51 210.83 L69.73 211.36 L69.8 211.95 L69.73 212.55 L69.51 213.08 L69.15 213.57 L68.65 214.03 L68.02 214.45 L67.26 214.82 L66.4 215.14 L65.43 215.41 L64.36 215.63 L63.22 215.78 L61.98 215.88 L60.6 215.91 L59.22 215.88 L57.98 215.78 L56.84 215.63 L55.77 215.41 L54.8 215.14 L53.94 214.82 L53.18 214.45 L52.55 214.03 L52.05 213.57 L51.69 213.08 L51.47 212.55 L51.4 211.95 L51.47 211.36 L51.69 210.83 L52.05 210.33 L52.55 209.88 L53.18 209.46 L53.94 209.09 L54.8 208.76 L55.77 208.49 L56.84 208.28 L57.98 208.12 L59.22 208.03 L60.6 208" fill="none" stroke="rgba(20,255,20,0.68)" stroke-width="1.0" stroke-linejoin="round" stroke-linecap="round"/>
<line x1="286.3" y1="142" x2="286.3" y2="273.5" stroke="rgba(20,255,20,0.6)" stroke-width="1"/>
<line x1="281.3" y1="143.3" x2="291.3" y2="153.3" stroke="rgba(20,255,20,0.6)" stroke-width="1"/>
<line x1="281.3" y1="164.5" x2="291.3" y2="174.5" stroke="rgba(20,255,20,0.6)" stroke-width="1"/>
<line x1="281.3" y1="192.7" x2="291.3" y2="202.7" stroke="rgba(20,255,20,0.6)" stroke-width="1"/>
<line x1="281.3" y1="220.7" x2="291.3" y2="230.7" stroke="rgba(20,255,20,0.6)" stroke-width="1"/>
<line x1="281.3" y1="248.8" x2="291.3" y2="258.8" stroke="rgba(20,255,20,0.6)" stroke-width="1"/>
<line x1="281.3" y1="263" x2="291.3" y2="273" stroke="rgba(20,255,20,0.6)" stroke-width="1"/>
<line x1="280" y1="169.5" x2="312" y2="169.5" stroke="rgba(20,255,20,0.6)" stroke-width="1"/>
<line x1="280" y1="197.7" x2="312" y2="197.7" stroke="rgba(20,255,20,0.6)" stroke-width="1"/>
<line x1="280" y1="225.7" x2="312" y2="225.7" stroke="rgba(20,255,20,0.6)" stroke-width="1"/>
<line x1="280" y1="253.8" x2="312" y2="253.8" stroke="rgba(20,255,20,0.6)" stroke-width="1"/>
<line x1="280" y1="268" x2="312" y2="268" stroke="rgba(20,255,20,0.6)" stroke-width="1"/>
<path d="M253.16 156.52 L252.11 156.07 L251.26 155.41 L250.65 154.59 L250.34 153.66 L250.34 152.7 L250.67 151.78 L251.29 150.96 L252.15 150.31 L253.2 149.87 L254.36 149.68 L255.54 149.75 L256.65 150.07 L257.61 150.62 L258.36 151.37 L258.83 152.25 L258.99 153.2 M259.17 153.2 L259.33 152.22 L259.79 151.3 L260.52 150.51 L261.48 149.91 L262.59 149.53 L263.78 149.4 L264.98 149.53 L266.09 149.91 L267.05 150.51 L267.78 151.3 L268.24 152.22 L268.4 153.2 L268.24 154.18 L267.78 155.1 L267.05 155.89 L266.09 156.49 L264.98 156.87 M259.35 140.44 L260.71 140.47 L261.92 140.57 L263.05 140.72 L264.1 140.93 L265.05 141.2 L265.91 141.51 L266.65 141.88 L267.27 142.29 L267.76 142.74 L268.11 143.23 L268.33 143.75 L268.4 144.33 L268.33 144.92 L268.11 145.44 L267.76 145.93 L267.27 146.38 L266.65 146.79 L265.91 147.15 L265.05 147.47 L264.1 147.74 L263.05 147.95 L261.92 148.1 L260.71 148.19 L259.35 148.23 L257.99 148.19 L256.78 148.1 L255.65 147.95 L254.6 147.74 L253.65 147.47 L252.79 147.15 L252.05 146.79 L251.43 146.38 L250.94 145.93 L250.59 145.44 L250.37 144.92 L250.3 144.33 L250.37 143.75 L250.59 143.23 L250.94 142.74 L251.43 142.29 L252.05 141.88 L252.79 141.51 L253.65 141.2 L254.6 140.93 L255.65 140.72 L256.78 140.57 L257.99 140.47 L259.35 140.44 M259.35 131.67 L260.71 131.7 L261.92 131.79 L263.05 131.94 L264.1 132.15 L265.05 132.42 L265.91 132.74 L266.65 133.11 L267.27 133.52 L267.76 133.97 L268.11 134.45 L268.33 134.97 L268.4 135.56 L268.33 136.14 L268.11 136.67 L267.76 137.15 L267.27 137.6 L266.65 138.01 L265.91 138.38 L265.05 138.7 L264.1 138.96 L263.05 139.17 L261.92 139.33 L260.71 139.42 L259.35 139.45 L257.99 139.42 L256.78 139.33 L255.65 139.17 L254.6 138.96 L253.65 138.7 L252.79 138.38 L252.05 138.01 L251.43 137.6 L250.94 137.15 L250.59 136.67 L250.37 136.14 L250.3 135.56 L250.37 134.97 L250.59 134.45 L250.94 133.97 L251.43 133.52 L252.05 133.11 L252.79 132.74 L253.65 132.42 L254.6 132.15 L255.65 131.94 L256.78 131.79 L257.99 131.7 L259.35 131.67 M267.5 129.77 L268.4 129.77 M259.35 119.24 L260.71 119.27 L261.92 119.37 L263.05 119.52 L264.1 119.73 L265.05 120 L265.91 120.32 L266.65 120.68 L267.27 121.09 L267.76 121.54 L268.11 122.03 L268.33 122.55 L268.4 123.13 L268.33 123.72 L268.11 124.24 L267.76 124.73 L267.27 125.18 L266.65 125.59 L265.91 125.95 L265.05 126.27 L264.1 126.54 L263.05 126.75 L261.92 126.9 L260.71 127 L259.35 127.03 L257.99 127 L256.78 126.9 L255.65 126.75 L254.6 126.54 L253.65 126.27 L252.79 125.95 L252.05 125.59 L251.43 125.18 L250.94 124.73 L250.59 124.24 L250.37 123.72 L250.3 123.13 L250.37 122.55 L250.59 122.03 L250.94 121.54 L251.43 121.09 L252.05 120.68 L252.79 120.32 L253.65 120 L254.6 119.73 L255.65 119.52 L256.78 119.37 L257.99 119.27 L259.35 119.24 M259.35 110.47 L260.71 110.5 L261.92 110.59 L263.05 110.74 L264.1 110.96 L265.05 111.22 L265.91 111.54 L266.65 111.91 L267.27 112.32 L267.76 112.77 L268.11 113.25 L268.33 113.77 L268.4 114.36 L268.33 114.95 L268.11 115.47 L267.76 115.95 L267.27 116.4 L266.65 116.81 L265.91 117.18 L265.05 117.5 L264.1 117.76 L263.05 117.98 L261.92 118.13 L260.71 118.22 L259.35 118.25 L257.99 118.22 L256.78 118.13 L255.65 117.98 L254.6 117.76 L253.65 117.5 L252.79 117.18 L252.05 116.81 L251.43 116.4 L250.94 115.95 L250.59 115.47 L250.37 114.95 L250.3 114.36 L250.37 113.77 L250.59 113.25 L250.94 112.77 L251.43 112.32 L252.05 111.91 L252.79 111.54 L253.65 111.22 L254.6 110.96 L255.65 110.74 L256.78 110.59 L257.99 110.5 L259.35 110.47" fill="none" stroke="rgba(20,255,20,0.68)" stroke-width="1.0" stroke-linejoin="round" stroke-linecap="round"/>
<path d="M279.2 193.05 L260 193.05 L273.63 199 L273.63 190.74 M269.6 181.44 L271.04 181.47 L272.33 181.57 L273.53 181.73 L274.64 181.95 L275.65 182.24 L276.55 182.57 L277.34 182.96 L278 183.4 L278.52 183.87 L278.9 184.39 L279.12 184.94 L279.2 185.56 L279.12 186.18 L278.9 186.74 L278.52 187.25 L278 187.73 L277.34 188.17 L276.55 188.55 L275.65 188.89 L274.64 189.17 L273.53 189.4 L272.33 189.56 L271.04 189.66 L269.6 189.69 L268.16 189.66 L266.87 189.56 L265.67 189.4 L264.56 189.17 L263.55 188.89 L262.65 188.55 L261.86 188.17 L261.2 187.73 L260.68 187.25 L260.3 186.74 L260.08 186.18 L260 185.56 L260.08 184.94 L260.3 184.39 L260.68 183.87 L261.2 183.4 L261.86 182.96 L262.65 182.57 L263.55 182.24 L264.56 181.95 L265.67 181.73 L266.87 181.57 L268.16 181.47 L269.6 181.44 M269.6 172.13 L271.04 172.16 L272.33 172.26 L273.53 172.42 L274.64 172.64 L275.65 172.93 L276.55 173.27 L277.34 173.65 L278 174.09 L278.52 174.57 L278.9 175.08 L279.12 175.63 L279.2 176.26 L279.12 176.88 L278.9 177.43 L278.52 177.94 L278 178.42 L277.34 178.86 L276.55 179.25 L275.65 179.58 L274.64 179.87 L273.53 180.09 L272.33 180.25 L271.04 180.35 L269.6 180.38 L268.16 180.35 L266.87 180.25 L265.67 180.09 L264.56 179.87 L263.55 179.58 L262.65 179.25 L261.86 178.86 L261.2 178.42 L260.68 177.94 L260.3 177.43 L260.08 176.88 L260 176.26 L260.08 175.63 L260.3 175.08 L260.68 174.57 L261.2 174.09 L261.86 173.65 L262.65 173.27 L263.55 172.93 L264.56 172.64 L265.67 172.42 L266.87 172.26 L268.16 172.16 L269.6 172.13 M278.24 170.12 L279.2 170.12 M269.6 158.95 L271.04 158.98 L272.33 159.08 L273.53 159.24 L274.64 159.47 L275.65 159.75 L276.55 160.09 L277.34 160.48 L278 160.91 L278.52 161.39 L278.9 161.9 L279.12 162.46 L279.2 163.08 L279.12 163.7 L278.9 164.25 L278.52 164.77 L278 165.24 L277.34 165.68 L276.55 166.07 L275.65 166.41 L274.64 166.69 L273.53 166.91 L272.33 167.07 L271.04 167.17 L269.6 167.2 L268.16 167.17 L266.87 167.07 L265.67 166.91 L264.56 166.69 L263.55 166.41 L262.65 166.07 L261.86 165.68 L261.2 165.24 L260.68 164.77 L260.3 164.25 L260.08 163.7 L260 163.08 L260.08 162.46 L260.3 161.9 L260.68 161.39 L261.2 160.91 L261.86 160.48 L262.65 160.09 L263.55 159.75 L264.56 159.47 L265.67 159.24 L266.87 159.08 L268.16 158.98 L269.6 158.95 M269.6 149.64 L271.04 149.67 L272.33 149.77 L273.53 149.93 L274.64 150.16 L275.65 150.44 L276.55 150.78 L277.34 151.17 L278 151.6 L278.52 152.08 L278.9 152.59 L279.12 153.15 L279.2 153.77 L279.12 154.39 L278.9 154.94 L278.52 155.46 L278 155.93 L277.34 156.37 L276.55 156.76 L275.65 157.1 L274.64 157.38 L273.53 157.6 L272.33 157.77 L271.04 157.86 L269.6 157.9 L268.16 157.86 L266.87 157.77 L265.67 157.6 L264.56 157.38 L263.55 157.1 L262.65 156.76 L261.86 156.37 L261.2 155.93 L260.68 155.46 L260.3 154.94 L260.08 154.39 L260 153.77 L260.08 153.15 L260.3 152.59 L260.68 152.08 L261.2 151.6 L261.86 151.17 L262.65 150.78 L263.55 150.44 L264.56 150.16 L265.67 149.93 L266.87 149.77 L268.16 149.67 L269.6 149.64" fill="none" stroke="rgba(20,255,20,0.68)" stroke-width="1.0" stroke-linejoin="round" stroke-linecap="round"/>
<path d="M268.4 230.39 L250.3 230.39 L263.15 236 L263.15 228.22 M259.35 219.44 L260.71 219.47 L261.92 219.57 L263.05 219.72 L264.1 219.93 L265.05 220.2 L265.91 220.51 L266.65 220.88 L267.27 221.29 L267.76 221.74 L268.11 222.23 L268.33 222.75 L268.4 223.33 L268.33 223.92 L268.11 224.44 L267.76 224.93 L267.27 225.38 L266.65 225.79 L265.91 226.15 L265.05 226.47 L264.1 226.74 L263.05 226.95 L261.92 227.1 L260.71 227.19 L259.35 227.23 L257.99 227.19 L256.78 227.1 L255.65 226.95 L254.6 226.74 L253.65 226.47 L252.79 226.15 L252.05 225.79 L251.43 225.38 L250.94 224.93 L250.59 224.44 L250.37 223.92 L250.3 223.33 L250.37 222.75 L250.59 222.23 L250.94 221.74 L251.43 221.29 L252.05 220.88 L252.79 220.51 L253.65 220.2 L254.6 219.93 L255.65 219.72 L256.78 219.57 L257.99 219.47 L259.35 219.44 M259.35 210.67 L260.71 210.7 L261.92 210.79 L263.05 210.94 L264.1 211.15 L265.05 211.42 L265.91 211.74 L266.65 212.11 L267.27 212.52 L267.76 212.97 L268.11 213.45 L268.33 213.97 L268.4 214.56 L268.33 215.14 L268.11 215.67 L267.76 216.15 L267.27 216.6 L266.65 217.01 L265.91 217.38 L265.05 217.7 L264.1 217.96 L263.05 218.17 L261.92 218.33 L260.71 218.42 L259.35 218.45 L257.99 218.42 L256.78 218.33 L255.65 218.17 L254.6 217.96 L253.65 217.7 L252.79 217.38 L252.05 217.01 L251.43 216.6 L250.94 216.15 L250.59 215.67 L250.37 215.14 L250.3 214.56 L250.37 213.97 L250.59 213.45 L250.94 212.97 L251.43 212.52 L252.05 212.11 L252.79 211.74 L253.65 211.42 L254.6 211.15 L255.65 210.94 L256.78 210.79 L257.99 210.7 L259.35 210.67 M267.5 208.77 L268.4 208.77 M259.35 198.24 L260.71 198.27 L261.92 198.37 L263.05 198.52 L264.1 198.73 L265.05 199 L265.91 199.32 L266.65 199.68 L267.27 200.09 L267.76 200.54 L268.11 201.03 L268.33 201.55 L268.4 202.13 L268.33 202.72 L268.11 203.24 L267.76 203.73 L267.27 204.18 L266.65 204.59 L265.91 204.95 L265.05 205.27 L264.1 205.54 L263.05 205.75 L261.92 205.9 L260.71 206 L259.35 206.03 L257.99 206 L256.78 205.9 L255.65 205.75 L254.6 205.54 L253.65 205.27 L252.79 204.95 L252.05 204.59 L251.43 204.18 L250.94 203.73 L250.59 203.24 L250.37 202.72 L250.3 202.13 L250.37 201.55 L250.59 201.03 L250.94 200.54 L251.43 200.09 L252.05 199.68 L252.79 199.32 L253.65 199 L254.6 198.73 L255.65 198.52 L256.78 198.37 L257.99 198.27 L259.35 198.24 M259.35 189.47 L260.71 189.5 L261.92 189.59 L263.05 189.74 L264.1 189.96 L265.05 190.22 L265.91 190.54 L266.65 190.91 L267.27 191.32 L267.76 191.77 L268.11 192.25 L268.33 192.77 L268.4 193.36 L268.33 193.95 L268.11 194.47 L267.76 194.95 L267.27 195.4 L266.65 195.81 L265.91 196.18 L265.05 196.5 L264.1 196.76 L263.05 196.98 L261.92 197.13 L260.71 197.22 L259.35 197.25 L257.99 197.22 L256.78 197.13 L255.65 196.98 L254.6 196.76 L253.65 196.5 L252.79 196.18 L252.05 195.81 L251.43 195.4 L250.94 194.95 L250.59 194.47 L250.37 193.95 L250.3 193.36 L250.37 192.77 L250.59 192.25 L250.94 191.77 L251.43 191.32 L252.05 190.91 L252.79 190.54 L253.65 190.22 L254.6 189.96 L255.65 189.74 L256.78 189.59 L257.99 189.5 L259.35 189.47" fill="none" stroke="rgba(20,255,20,0.68)" stroke-width="1.0" stroke-linejoin="round" stroke-linecap="round"/>
<path d="M264.99 275.81 L263.8 275.68 L262.69 275.29 L261.75 274.66 L261.04 273.86 L260.62 272.92 L260.5 271.92 L260.71 270.94 L261.23 270.03 L262.01 269.27 L263.01 268.72 L264.15 268.4 L265.35 268.35 L266.52 268.56 L279.2 275.81 L279.2 268.15 M269.85 258.89 L271.26 258.93 L272.51 259.02 L273.68 259.18 L274.76 259.4 L275.74 259.67 L276.62 260 L277.39 260.38 L278.03 260.8 L278.54 261.27 L278.9 261.77 L279.13 262.31 L279.2 262.91 L279.13 263.52 L278.9 264.06 L278.54 264.56 L278.03 265.02 L277.39 265.45 L276.62 265.83 L275.74 266.16 L274.76 266.43 L273.68 266.65 L272.51 266.81 L271.26 266.9 L269.85 266.93 L268.44 266.9 L267.19 266.81 L266.02 266.65 L264.94 266.43 L263.96 266.16 L263.08 265.83 L262.31 265.45 L261.67 265.02 L261.16 264.56 L260.8 264.06 L260.57 263.52 L260.5 262.91 L260.57 262.31 L260.8 261.77 L261.16 261.27 L261.67 260.8 L262.31 260.38 L263.08 260 L263.96 259.67 L264.94 259.4 L266.02 259.18 L267.19 259.02 L268.44 258.93 L269.85 258.89 M269.85 249.83 L271.26 249.86 L272.51 249.96 L273.68 250.11 L274.76 250.33 L275.74 250.61 L276.62 250.94 L277.39 251.31 L278.03 251.74 L278.54 252.2 L278.9 252.7 L279.13 253.24 L279.2 253.85 L279.13 254.45 L278.9 254.99 L278.54 255.49 L278.03 255.96 L277.39 256.38 L276.62 256.76 L275.74 257.09 L274.76 257.36 L273.68 257.58 L272.51 257.74 L271.26 257.84 L269.85 257.87 L268.44 257.84 L267.19 257.74 L266.02 257.58 L264.94 257.36 L263.96 257.09 L263.08 256.76 L262.31 256.38 L261.67 255.96 L261.16 255.49 L260.8 254.99 L260.57 254.45 L260.5 253.85 L260.57 253.24 L260.8 252.7 L261.16 252.2 L261.67 251.74 L262.31 251.31 L263.08 250.94 L263.96 250.61 L264.94 250.33 L266.02 250.11 L267.19 249.96 L268.44 249.86 L269.85 249.83 M278.26 247.87 L279.2 247.87 M269.85 236.99 L271.26 237.02 L272.51 237.12 L273.68 237.28 L274.76 237.5 L275.74 237.77 L276.62 238.1 L277.39 238.48 L278.03 238.9 L278.54 239.37 L278.9 239.87 L279.13 240.41 L279.2 241.01 L279.13 241.62 L278.9 242.16 L278.54 242.66 L278.03 243.12 L277.39 243.55 L276.62 243.92 L275.74 244.25 L274.76 244.53 L273.68 244.75 L272.51 244.91 L271.26 245 L269.85 245.03 L268.44 245 L267.19 244.91 L266.02 244.75 L264.94 244.53 L263.96 244.25 L263.08 243.92 L262.31 243.55 L261.67 243.12 L261.16 242.66 L260.8 242.16 L260.57 241.62 L260.5 241.01 L260.57 240.41 L260.8 239.87 L261.16 239.37 L261.67 238.9 L262.31 238.48 L263.08 238.1 L263.96 237.77 L264.94 237.5 L266.02 237.28 L267.19 237.12 L268.44 237.02 L269.85 236.99 M269.85 227.93 L271.26 227.96 L272.51 228.05 L273.68 228.21 L274.76 228.43 L275.74 228.7 L276.62 229.03 L277.39 229.41 L278.03 229.84 L278.54 230.3 L278.9 230.8 L279.13 231.34 L279.2 231.95 L279.13 232.55 L278.9 233.09 L278.54 233.59 L278.03 234.06 L277.39 234.48 L276.62 234.86 L275.74 235.19 L274.76 235.46 L273.68 235.68 L272.51 235.84 L271.26 235.94 L269.85 235.97 L268.44 235.94 L267.19 235.84 L266.02 235.68 L264.94 235.46 L263.96 235.19 L263.08 234.86 L262.31 234.48 L261.67 234.06 L261.16 233.59 L260.8 233.09 L260.57 232.55 L260.5 231.95 L260.57 231.34 L260.8 230.8 L261.16 230.3 L261.67 229.84 L262.31 229.41 L263.08 229.03 L263.96 228.7 L264.94 228.43 L266.02 228.21 L267.19 228.05 L268.44 227.96 L269.85 227.93" fill="none" stroke="rgba(20,255,20,0.68)" stroke-width="1.0" stroke-linejoin="round" stroke-linecap="round"/>
<path d="M306.6 248.86 L288.4 248.86 L301.32 254.5 L301.32 246.67 M297.5 237.85 L298.87 237.88 L300.09 237.97 L301.22 238.13 L302.28 238.34 L303.23 238.61 L304.09 238.93 L304.84 239.3 L305.46 239.71 L305.95 240.16 L306.31 240.65 L306.53 241.17 L306.6 241.76 L306.53 242.35 L306.31 242.88 L305.95 243.36 L305.46 243.82 L304.84 244.23 L304.09 244.6 L303.23 244.92 L302.28 245.19 L301.22 245.4 L300.09 245.55 L298.87 245.65 L297.5 245.68 L296.13 245.65 L294.91 245.55 L293.78 245.4 L292.72 245.19 L291.77 244.92 L290.91 244.6 L290.16 244.23 L289.54 243.82 L289.05 243.36 L288.69 242.88 L288.47 242.35 L288.4 241.76 L288.47 241.17 L288.69 240.65 L289.05 240.16 L289.54 239.71 L290.16 239.3 L290.91 238.93 L291.77 238.61 L292.72 238.34 L293.78 238.13 L294.91 237.97 L296.13 237.88 L297.5 237.85 M297.5 229.03 L298.87 229.06 L300.09 229.15 L301.22 229.31 L302.28 229.52 L303.23 229.79 L304.09 230.11 L304.84 230.47 L305.46 230.89 L305.95 231.34 L306.31 231.83 L306.53 232.35 L306.6 232.94 L306.53 233.53 L306.31 234.05 L305.95 234.54 L305.46 234.99 L304.84 235.41 L304.09 235.77 L303.23 236.1 L302.28 236.36 L301.22 236.58 L300.09 236.73 L298.87 236.82 L297.5 236.85 L296.13 236.82 L294.91 236.73 L293.78 236.58 L292.72 236.36 L291.77 236.1 L290.91 235.77 L290.16 235.41 L289.54 234.99 L289.05 234.54 L288.69 234.05 L288.47 233.53 L288.4 232.94 L288.47 232.35 L288.69 231.83 L289.05 231.34 L289.54 230.89 L290.16 230.47 L290.91 230.11 L291.77 229.79 L292.72 229.52 L293.78 229.31 L294.91 229.15 L296.13 229.06 L297.5 229.03 M305.69 227.12 L306.6 227.12 M297.5 216.53 L298.87 216.57 L300.09 216.66 L301.22 216.81 L302.28 217.02 L303.23 217.29 L304.09 217.61 L304.84 217.98 L305.46 218.39 L305.95 218.85 L306.31 219.33 L306.53 219.86 L306.6 220.45 L306.53 221.04 L306.31 221.56 L305.95 222.05 L305.46 222.5 L304.84 222.91 L304.09 223.28 L303.23 223.6 L302.28 223.87 L301.22 224.08 L300.09 224.24 L298.87 224.33 L297.5 224.36 L296.13 224.33 L294.91 224.24 L293.78 224.08 L292.72 223.87 L291.77 223.6 L290.91 223.28 L290.16 222.91 L289.54 222.5 L289.05 222.05 L288.69 221.56 L288.47 221.04 L288.4 220.45 L288.47 219.86 L288.69 219.33 L289.05 218.85 L289.54 218.39 L290.16 217.98 L290.91 217.61 L291.77 217.29 L292.72 217.02 L293.78 216.81 L294.91 216.66 L296.13 216.57 L297.5 216.53 M297.5 207.71 L298.87 207.74 L300.09 207.84 L301.22 207.99 L302.28 208.2 L303.23 208.47 L304.09 208.79 L304.84 209.16 L305.46 209.57 L305.95 210.02 L306.31 210.51 L306.53 211.04 L306.6 211.62 L306.53 212.21 L306.31 212.74 L305.95 213.23 L305.46 213.68 L304.84 214.09 L304.09 214.46 L303.23 214.78 L302.28 215.05 L301.22 215.26 L300.09 215.41 L298.87 215.51 L297.5 215.54 L296.13 215.51 L294.91 215.41 L293.78 215.26 L292.72 215.05 L291.77 214.78 L290.91 214.46 L290.16 214.09 L289.54 213.68 L289.05 213.23 L288.69 212.74 L288.47 212.21 L288.4 211.62 L288.47 211.04 L288.69 210.51 L289.05 210.02 L289.54 209.57 L290.16 209.16 L290.91 208.79 L291.77 208.47 L292.72 208.2 L293.78 207.99 L294.91 207.84 L296.13 207.74 L297.5 207.71" fill="none" stroke="rgba(20,255,20,0.68)" stroke-width="1.0" stroke-linejoin="round" stroke-linecap="round"/>
<line x1="246.5" y1="28" x2="246.5" y2="63.6" stroke="rgba(20,255,20,0.6)" stroke-width="1"/>
<line x1="241.5" y1="23.5" x2="251.5" y2="33.5" stroke="rgba(20,255,20,0.6)" stroke-width="1"/>
<line x1="241.5" y1="51.9" x2="251.5" y2="61.9" stroke="rgba(20,255,20,0.6)" stroke-width="1"/>
<line x1="240" y1="28.5" x2="272" y2="28.5" stroke="rgba(20,255,20,0.6)" stroke-width="1.3"/>
<path d="M239.8 51.77 L221 51.77 L234.35 57.6 L234.35 49.52 M230.4 40.4 L231.81 40.43 L233.07 40.53 L234.25 40.69 L235.33 40.91 L236.32 41.18 L237.21 41.52 L237.98 41.9 L238.62 42.32 L239.13 42.79 L239.5 43.29 L239.73 43.84 L239.8 44.44 L239.73 45.05 L239.5 45.59 L239.13 46.1 L238.62 46.56 L237.98 46.99 L237.21 47.37 L236.32 47.7 L235.33 47.98 L234.25 48.2 L233.07 48.36 L231.81 48.45 L230.4 48.49 L228.99 48.45 L227.73 48.36 L226.55 48.2 L225.47 47.98 L224.48 47.7 L223.59 47.37 L222.82 46.99 L222.18 46.56 L221.67 46.1 L221.3 45.59 L221.07 45.05 L221 44.44 L221.07 43.84 L221.3 43.29 L221.67 42.79 L222.18 42.32 L222.82 41.9 L223.59 41.52 L224.48 41.18 L225.47 40.91 L226.55 40.69 L227.73 40.53 L228.99 40.43 L230.4 40.4 M230.4 31.29 L231.81 31.32 L233.07 31.42 L234.25 31.57 L235.33 31.79 L236.32 32.07 L237.21 32.4 L237.98 32.78 L238.62 33.21 L239.13 33.68 L239.5 34.18 L239.73 34.72 L239.8 35.33 L239.73 35.94 L239.5 36.48 L239.13 36.98 L238.62 37.45 L237.98 37.88 L237.21 38.26 L236.32 38.59 L235.33 38.87 L234.25 39.08 L233.07 39.24 L231.81 39.34 L230.4 39.37 L228.99 39.34 L227.73 39.24 L226.55 39.08 L225.47 38.87 L224.48 38.59 L223.59 38.26 L222.82 37.88 L222.18 37.45 L221.67 36.98 L221.3 36.48 L221.07 35.94 L221 35.33 L221.07 34.72 L221.3 34.18 L221.67 33.68 L222.18 33.21 L222.82 32.78 L223.59 32.4 L224.48 32.07 L225.47 31.79 L226.55 31.57 L227.73 31.42 L228.99 31.32 L230.4 31.29" fill="none" stroke="rgba(20,255,20,0.68)" stroke-width="1.0" stroke-linejoin="round" stroke-linecap="round"/>
<line x1="280.5" y1="71.4" x2="280.5" y2="99" stroke="rgba(20,255,20,0.6)" stroke-width="1"/>
<line x1="275.5" y1="97.3" x2="285.5" y2="87.3" stroke="rgba(20,255,20,0.6)" stroke-width="1"/>
<line x1="325.1" y1="97.3" x2="335.1" y2="87.3" stroke="rgba(20,255,20,0.6)" stroke-width="1"/>
<line x1="303" y1="92.3" x2="330" y2="92.3" stroke="rgba(20,255,20,0.6)" stroke-width="1"/>
<path d="M290.8 67.4 L298.15 67.4 L293.07 84.9 M307.16 76.15 L307.13 77.47 L307.04 78.64 L306.9 79.73 L306.69 80.74 L306.43 81.66 L306.13 82.49 L305.77 83.2 L305.37 83.8 L304.94 84.28 L304.47 84.62 L303.97 84.83 L303.4 84.9 L302.83 84.83 L302.33 84.62 L301.86 84.28 L301.43 83.8 L301.03 83.2 L300.67 82.49 L300.37 81.66 L300.11 80.74 L299.9 79.73 L299.76 78.64 L299.67 77.47 L299.64 76.15 L299.67 74.83 L299.76 73.66 L299.9 72.57 L300.11 71.56 L300.37 70.64 L300.67 69.81 L301.03 69.1 L301.43 68.5 L301.86 68.02 L302.33 67.68 L302.83 67.47 L303.4 67.4 L303.97 67.47 L304.47 67.68 L304.94 68.02 L305.37 68.5 L305.77 69.1 L306.13 69.81 L306.43 70.64 L306.69 71.56 L306.9 72.57 L307.04 73.66 L307.13 74.83 L307.16 76.15 M316 76.15 L315.97 77.47 L315.88 78.64 L315.73 79.73 L315.53 80.74 L315.27 81.66 L314.96 82.49 L314.61 83.2 L314.21 83.8 L313.78 84.28 L313.31 84.62 L312.8 84.83 L312.24 84.9 L311.67 84.83 L311.17 84.62 L310.7 84.28 L310.26 83.8 L309.87 83.2 L309.51 82.49 L309.2 81.66 L308.95 80.74 L308.74 79.73 L308.59 78.64 L308.5 77.47 L308.48 76.15 L308.5 74.83 L308.59 73.66 L308.74 72.57 L308.95 71.56 L309.2 70.64 L309.51 69.81 L309.87 69.1 L310.26 68.5 L310.7 68.02 L311.17 67.68 L311.67 67.47 L312.24 67.4 L312.8 67.47 L313.31 67.68 L313.78 68.02 L314.21 68.5 L314.61 69.1 L314.96 69.81 L315.27 70.64 L315.53 71.56 L315.73 72.57 L315.88 73.66 L315.97 74.83 L316 76.15 M318.19 84.03 L318.19 84.9 M328.51 76.15 L328.48 77.47 L328.39 78.64 L328.25 79.73 L328.04 80.74 L327.78 81.66 L327.48 82.49 L327.12 83.2 L326.72 83.8 L326.29 84.28 L325.82 84.62 L325.32 84.83 L324.75 84.9 L324.18 84.83 L323.68 84.62 L323.21 84.28 L322.78 83.8 L322.38 83.2 L322.02 82.49 L321.72 81.66 L321.46 80.74 L321.25 79.73 L321.11 78.64 L321.02 77.47 L320.99 76.15 L321.02 74.83 L321.11 73.66 L321.25 72.57 L321.46 71.56 L321.72 70.64 L322.02 69.81 L322.38 69.1 L322.78 68.5 L323.21 68.02 L323.68 67.68 L324.18 67.47 L324.75 67.4 L325.32 67.47 L325.82 67.68 L326.29 68.02 L326.72 68.5 L327.12 69.1 L327.48 69.81 L327.78 70.64 L328.04 71.56 L328.25 72.57 L328.39 73.66 L328.48 74.83 L328.51 76.15 M337.35 76.15 L337.32 77.47 L337.23 78.64 L337.08 79.73 L336.88 80.74 L336.62 81.66 L336.31 82.49 L335.96 83.2 L335.56 83.8 L335.13 84.28 L334.66 84.62 L334.15 84.83 L333.59 84.9 L333.02 84.83 L332.52 84.62 L332.05 84.28 L331.61 83.8 L331.22 83.2 L330.86 82.49 L330.55 81.66 L330.3 80.74 L330.09 79.73 L329.94 78.64 L329.85 77.47 L329.83 76.15 L329.85 74.83 L329.94 73.66 L330.09 72.57 L330.3 71.56 L330.55 70.64 L330.86 69.81 L331.22 69.1 L331.61 68.5 L332.05 68.02 L332.52 67.68 L333.02 67.47 L333.59 67.4 L334.15 67.47 L334.66 67.68 L335.13 68.02 L335.56 68.5 L335.96 69.1 L336.31 69.81 L336.62 70.64 L336.88 71.56 L337.08 72.57 L337.23 73.66 L337.32 74.83 L337.35 76.15" fill="none" stroke="rgba(20,255,20,0.68)" stroke-width="1.0" stroke-linejoin="round" stroke-linecap="round"/>
<line x1="270" y1="148.4" x2="312" y2="148.4" stroke="rgba(20,255,20,0.6)" stroke-width="1"/>
<path d="M320.83 326.74 L323.29 323.4 L323.29 341 M332.62 332.2 L332.59 333.52 L332.5 334.7 L332.35 335.8 L332.15 336.82 L331.89 337.75 L331.58 338.57 L331.22 339.3 L330.82 339.9 L330.38 340.38 L329.91 340.72 L329.41 340.93 L328.84 341 L328.27 340.93 L327.76 340.72 L327.29 340.38 L326.85 339.9 L326.45 339.3 L326.09 338.57 L325.79 337.75 L325.53 336.82 L325.32 335.8 L325.17 334.7 L325.08 333.52 L325.05 332.2 L325.08 330.88 L325.17 329.7 L325.32 328.6 L325.53 327.58 L325.79 326.65 L326.09 325.83 L326.45 325.1 L326.85 324.5 L327.29 324.02 L327.76 323.68 L328.27 323.47 L328.84 323.4 L329.41 323.47 L329.91 323.68 L330.38 324.02 L330.82 324.5 L331.22 325.1 L331.58 325.83 L331.89 326.65 L332.15 327.58 L332.35 328.6 L332.5 329.7 L332.59 330.88 L332.62 332.2 M341.51 332.2 L341.48 333.52 L341.39 334.7 L341.24 335.8 L341.03 336.82 L340.77 337.75 L340.47 338.57 L340.11 339.3 L339.71 339.9 L339.27 340.38 L338.8 340.72 L338.29 340.93 L337.72 341 L337.15 340.93 L336.65 340.72 L336.18 340.38 L335.74 339.9 L335.34 339.3 L334.98 338.57 L334.67 337.75 L334.41 336.82 L334.21 335.8 L334.06 334.7 L333.97 333.52 L333.94 332.2 L333.97 330.88 L334.06 329.7 L334.21 328.6 L334.41 327.58 L334.67 326.65 L334.98 325.83 L335.34 325.1 L335.74 324.5 L336.18 324.02 L336.65 323.68 L337.15 323.47 L337.72 323.4 L338.29 323.47 L338.8 323.68 L339.27 324.02 L339.71 324.5 L340.11 325.1 L340.47 325.83 L340.77 326.65 L341.03 327.58 L341.24 328.6 L341.39 329.7 L341.48 330.88 L341.51 332.2 M343.71 340.12 L343.71 341 M354.09 332.2 L354.06 333.52 L353.97 334.7 L353.82 335.8 L353.62 336.82 L353.36 337.75 L353.05 338.57 L352.69 339.3 L352.29 339.9 L351.86 340.38 L351.38 340.72 L350.88 340.93 L350.31 341 L349.74 340.93 L349.23 340.72 L348.76 340.38 L348.32 339.9 L347.92 339.3 L347.57 338.57 L347.26 337.75 L347 336.82 L346.79 335.8 L346.64 334.7 L346.55 333.52 L346.52 332.2 L346.55 330.88 L346.64 329.7 L346.79 328.6 L347 327.58 L347.26 326.65 L347.57 325.83 L347.92 325.1 L348.32 324.5 L348.76 324.02 L349.23 323.68 L349.74 323.47 L350.31 323.4 L350.88 323.47 L351.38 323.68 L351.86 324.02 L352.29 324.5 L352.69 325.1 L353.05 325.83 L353.36 326.65 L353.62 327.58 L353.82 328.6 L353.97 329.7 L354.06 330.88 L354.09 332.2 M362.98 332.2 L362.95 333.52 L362.86 334.7 L362.71 335.8 L362.51 336.82 L362.25 337.75 L361.94 338.57 L361.58 339.3 L361.18 339.9 L360.74 340.38 L360.27 340.72 L359.77 340.93 L359.2 341 L358.63 340.93 L358.12 340.72 L357.65 340.38 L357.21 339.9 L356.81 339.3 L356.45 338.57 L356.15 337.75 L355.89 336.82 L355.68 335.8 L355.53 334.7 L355.44 333.52 L355.41 332.2 L355.44 330.88 L355.53 329.7 L355.68 328.6 L355.89 327.58 L356.15 326.65 L356.45 325.83 L356.81 325.1 L357.21 324.5 L357.65 324.02 L358.12 323.68 L358.63 323.47 L359.2 323.4 L359.77 323.47 L360.27 323.68 L360.74 324.02 L361.18 324.5 L361.58 325.1 L361.94 325.83 L362.25 326.65 L362.51 327.58 L362.71 328.6 L362.86 329.7 L362.95 330.88 L362.98 332.2" fill="none" stroke="rgba(20,255,20,0.68)" stroke-width="1.0" stroke-linejoin="round" stroke-linecap="round"/>
<line x1="323" y1="348" x2="345" y2="348" stroke="rgba(20,255,20,0.6)" stroke-width="1"/>
<line x1="324.5" y1="353.5" x2="334.5" y2="343.5" stroke="rgba(20,255,20,0.6)" stroke-width="1"/>
<line x1="334.5" y1="353.5" x2="344.5" y2="343.5" stroke="rgba(20,255,20,0.6)" stroke-width="1"/>
<line x1="115.8" y1="398.6" x2="225.5" y2="398.6" stroke="rgba(20,255,20,0.6)" stroke-width="1"/>
<line x1="264.7" y1="398.6" x2="311.8" y2="398.6" stroke="rgba(20,255,20,0.6)" stroke-width="1"/>
<line x1="218.5" y1="392.3" x2="218.5" y2="437" stroke="rgba(20,255,20,0.6)" stroke-width="1"/>
<line x1="213.5" y1="393.6" x2="223.5" y2="403.6" stroke="rgba(20,255,20,0.6)" stroke-width="1"/>
<line x1="213.5" y1="425.3" x2="223.5" y2="435.3" stroke="rgba(20,255,20,0.6)" stroke-width="1"/>
<line x1="271.5" y1="392" x2="271.5" y2="461" stroke="rgba(20,255,20,0.6)" stroke-width="1"/>
<line x1="266.5" y1="393.6" x2="276.5" y2="403.6" stroke="rgba(20,255,20,0.6)" stroke-width="1"/>
<line x1="266.5" y1="415" x2="276.5" y2="425" stroke="rgba(20,255,20,0.6)" stroke-width="1"/>
<line x1="266.5" y1="425.3" x2="276.5" y2="435.3" stroke="rgba(20,255,20,0.6)" stroke-width="1"/>
<line x1="266.5" y1="450.3" x2="276.5" y2="460.3" stroke="rgba(20,255,20,0.6)" stroke-width="1"/>
<line x1="264.5" y1="419.8" x2="294.5" y2="419.8" stroke="rgba(20,255,20,0.6)" stroke-width="1.4"/>
<line x1="264.5" y1="455.3" x2="294.5" y2="455.3" stroke="rgba(20,255,20,0.6)" stroke-width="1"/>
<path d="M212.2 424.42 L194.2 424.42 L206.98 430 L206.98 422.26 M194.2 414.25 L194.2 420.37 L202.3 420.82 L203.14 420.59 L202.03 419.92 L201.22 419.09 L200.77 418.15 L200.7 417.16 L201.03 416.2 L201.72 415.33 L202.74 414.6 L204.01 414.07 L205.44 413.77 L206.94 413.73 L208.41 413.94 L209.74 414.4 L210.85 415.06 L211.66 415.9 L212.11 416.84 L212.18 417.82 L211.85 418.79 L211.16 419.66 L210.14 420.39 M203.2 404.81 L204.55 404.84 L205.76 404.93 L206.88 405.08 L207.92 405.29 L208.87 405.56 L209.72 405.87 L210.46 406.24 L211.07 406.65 L211.56 407.09 L211.91 407.58 L212.13 408.09 L212.2 408.68 L212.13 409.26 L211.91 409.78 L211.56 410.26 L211.07 410.71 L210.46 411.12 L209.72 411.48 L208.87 411.8 L207.92 412.06 L206.88 412.27 L205.76 412.42 L204.55 412.52 L203.2 412.55 L201.85 412.52 L200.64 412.42 L199.52 412.27 L198.48 412.06 L197.53 411.8 L196.68 411.48 L195.94 411.12 L195.33 410.71 L194.84 410.26 L194.49 409.78 L194.27 409.26 L194.2 408.68 L194.27 408.09 L194.49 407.58 L194.84 407.09 L195.33 406.65 L195.94 406.24 L196.68 405.87 L197.53 405.56 L198.48 405.29 L199.52 405.08 L200.64 404.93 L201.85 404.84 L203.2 404.81 M211.3 402.92 L212.2 402.92 M203.2 392.45 L204.55 392.48 L205.76 392.57 L206.88 392.73 L207.92 392.94 L208.87 393.2 L209.72 393.52 L210.46 393.88 L211.07 394.29 L211.56 394.74 L211.91 395.22 L212.13 395.74 L212.2 396.32 L212.13 396.9 L211.91 397.42 L211.56 397.91 L211.07 398.35 L210.46 398.76 L209.72 399.13 L208.87 399.44 L207.92 399.71 L206.88 399.92 L205.76 400.07 L204.55 400.16 L203.2 400.19 L201.85 400.16 L200.64 400.07 L199.52 399.92 L198.48 399.71 L197.53 399.44 L196.68 399.13 L195.94 398.76 L195.33 398.35 L194.84 397.91 L194.49 397.42 L194.27 396.9 L194.2 396.32 L194.27 395.74 L194.49 395.22 L194.84 394.74 L195.33 394.29 L195.94 393.88 L196.68 393.52 L197.53 393.2 L198.48 392.94 L199.52 392.73 L200.64 392.57 L201.85 392.48 L203.2 392.45 M203.2 383.73 L204.55 383.76 L205.76 383.85 L206.88 384 L207.92 384.21 L208.87 384.48 L209.72 384.79 L210.46 385.16 L211.07 385.56 L211.56 386.01 L211.91 386.49 L212.13 387.01 L212.2 387.6 L212.13 388.18 L211.91 388.7 L211.56 389.18 L211.07 389.63 L210.46 390.03 L209.72 390.4 L208.87 390.72 L207.92 390.98 L206.88 391.19 L205.76 391.34 L204.55 391.43 L203.2 391.47 L201.85 391.43 L200.64 391.34 L199.52 391.19 L198.48 390.98 L197.53 390.72 L196.68 390.4 L195.94 390.03 L195.33 389.63 L194.84 389.18 L194.49 388.7 L194.27 388.18 L194.2 387.6 L194.27 387.01 L194.49 386.49 L194.84 386.01 L195.33 385.56 L195.94 385.16 L196.68 384.79 L197.53 384.48 L198.48 384.21 L199.52 384 L200.64 383.85 L201.85 383.76 L203.2 383.73" fill="none" stroke="rgba(20,255,20,0.68)" stroke-width="1.0" stroke-linejoin="round" stroke-linecap="round"/>
<path d="M237 472.99 L235.9 472.52 L235 471.83 L234.37 470.97 L234.04 469.99 L234.05 468.99 L234.39 468.02 L235.04 467.16 L235.94 466.48 L237.05 466.01 L238.26 465.81 L239.5 465.88 L240.67 466.22 L241.68 466.81 L242.46 467.59 L242.95 468.51 L243.12 469.51 M243.31 469.51 L243.48 468.48 L243.96 467.51 L244.73 466.69 L245.73 466.05 L246.9 465.66 L248.16 465.52 L249.41 465.66 L250.58 466.05 L251.58 466.69 L252.35 467.51 L252.83 468.48 L253 469.51 L252.83 470.54 L252.35 471.5 L251.58 472.33 L250.58 472.97 L249.41 473.36 M234 456.88 L234 463.34 L242.55 463.81 L243.43 463.57 L242.26 462.86 L241.41 461.99 L240.93 460.99 L240.86 459.95 L241.21 458.93 L241.94 458.01 L243.01 457.24 L244.35 456.68 L245.86 456.37 L247.45 456.32 L249 456.55 L250.41 457.03 L251.58 457.73 L252.43 458.61 L252.91 459.61 L252.98 460.65 L252.63 461.66 L251.9 462.59 L250.83 463.36 M243.5 446.91 L244.93 446.94 L246.2 447.04 L247.39 447.2 L248.49 447.42 L249.49 447.7 L250.38 448.03 L251.16 448.42 L251.81 448.85 L252.33 449.32 L252.7 449.83 L252.92 450.38 L253 450.99 L252.92 451.61 L252.7 452.15 L252.33 452.66 L251.81 453.14 L251.16 453.57 L250.38 453.95 L249.49 454.29 L248.49 454.57 L247.39 454.79 L246.2 454.95 L244.93 455.05 L243.5 455.08 L242.07 455.05 L240.8 454.95 L239.61 454.79 L238.51 454.57 L237.51 454.29 L236.62 453.95 L235.84 453.57 L235.19 453.14 L234.67 452.66 L234.3 452.15 L234.08 451.61 L234 450.99 L234.08 450.38 L234.3 449.83 L234.67 449.32 L235.19 448.85 L235.84 448.42 L236.62 448.03 L237.51 447.7 L238.51 447.42 L239.61 447.2 L240.8 447.04 L242.07 446.94 L243.5 446.91 M252.05 444.92 L253 444.92 M243.5 433.87 L244.93 433.9 L246.2 434 L247.39 434.16 L248.49 434.38 L249.49 434.66 L250.38 434.99 L251.16 435.38 L251.81 435.81 L252.33 436.28 L252.7 436.79 L252.92 437.34 L253 437.95 L252.92 438.57 L252.7 439.11 L252.33 439.62 L251.81 440.09 L251.16 440.53 L250.38 440.91 L249.49 441.24 L248.49 441.52 L247.39 441.75 L246.2 441.91 L244.93 442 L243.5 442.04 L242.07 442 L240.8 441.91 L239.61 441.75 L238.51 441.52 L237.51 441.24 L236.62 440.91 L235.84 440.53 L235.19 440.09 L234.67 439.62 L234.3 439.11 L234.08 438.57 L234 437.95 L234.08 437.34 L234.3 436.79 L234.67 436.28 L235.19 435.81 L235.84 435.38 L236.62 434.99 L237.51 434.66 L238.51 434.38 L239.61 434.16 L240.8 434 L242.07 433.9 L243.5 433.87 M243.5 424.65 L244.93 424.69 L246.2 424.78 L247.39 424.94 L248.49 425.17 L249.49 425.45 L250.38 425.78 L251.16 426.17 L251.81 426.6 L252.33 427.07 L252.7 427.58 L252.92 428.13 L253 428.74 L252.92 429.35 L252.7 429.9 L252.33 430.41 L251.81 430.88 L251.16 431.31 L250.38 431.7 L249.49 432.03 L248.49 432.31 L247.39 432.53 L246.2 432.7 L244.93 432.79 L243.5 432.82 L242.07 432.79 L240.8 432.7 L239.61 432.53 L238.51 432.31 L237.51 432.03 L236.62 431.7 L235.84 431.31 L235.19 430.88 L234.67 430.41 L234.3 429.9 L234.08 429.35 L234 428.74 L234.08 428.13 L234.3 427.58 L234.67 427.07 L235.19 426.6 L235.84 426.17 L236.62 425.78 L237.51 425.45 L238.51 425.17 L239.61 424.94 L240.8 424.78 L242.07 424.69 L243.5 424.65" fill="none" stroke="rgba(20,255,20,0.68)" stroke-width="1.0" stroke-linejoin="round" stroke-linecap="round"/>
<path d="M245.3 420.02 L246.78 420.16 L248.15 420.55 L249.33 421.19 L250.24 422.01 L250.81 422.98 L251 424.01 L250.81 425.04 L250.24 426 L249.33 426.83 L248.15 427.47 L246.78 427.86 L245.3 428 L243.82 427.86 L242.45 427.47 L241.27 426.83 L240.36 426 L239.79 425.04 L239.6 424.01 L239.79 422.98 L240.36 422.01 L241.27 421.19 L242.45 420.55 L243.82 420.16 L245.3 420.02 M245.3 428 L237.7 428 L236.22 427.86 L234.85 427.47 L233.67 426.83 L232.76 426 L232.19 425.04 L232 424.01 L232.19 422.98 L232.76 422.01 M241.5 410.62 L242.93 410.65 L244.2 410.75 L245.39 410.91 L246.49 411.13 L247.49 411.41 L248.38 411.74 L249.16 412.13 L249.81 412.56 L250.33 413.03 L250.7 413.54 L250.92 414.09 L251 414.7 L250.92 415.32 L250.7 415.87 L250.33 416.38 L249.81 416.85 L249.16 417.28 L248.38 417.66 L247.49 418 L246.49 418.28 L245.39 418.5 L244.2 418.66 L242.93 418.76 L241.5 418.79 L240.07 418.76 L238.8 418.66 L237.61 418.5 L236.51 418.28 L235.51 418 L234.62 417.66 L233.84 417.28 L233.19 416.85 L232.67 416.38 L232.3 415.87 L232.08 415.32 L232 414.7 L232.08 414.09 L232.3 413.54 L232.67 413.03 L233.19 412.56 L233.84 412.13 L234.62 411.74 L235.51 411.41 L236.51 411.13 L237.61 410.91 L238.8 410.75 L240.07 410.65 L241.5 410.62 M250.05 408.63 L251 408.63 M241.5 397.58 L242.93 397.61 L244.2 397.71 L245.39 397.87 L246.49 398.09 L247.49 398.37 L248.38 398.7 L249.16 399.09 L249.81 399.52 L250.33 399.99 L250.7 400.5 L250.92 401.05 L251 401.66 L250.92 402.28 L250.7 402.82 L250.33 403.33 L249.81 403.81 L249.16 404.24 L248.38 404.62 L247.49 404.96 L246.49 405.24 L245.39 405.46 L244.2 405.62 L242.93 405.71 L241.5 405.75 L240.07 405.71 L238.8 405.62 L237.61 405.46 L236.51 405.24 L235.51 404.96 L234.62 404.62 L233.84 404.24 L233.19 403.81 L232.67 403.33 L232.3 402.82 L232.08 402.28 L232 401.66 L232.08 401.05 L232.3 400.5 L232.67 399.99 L233.19 399.52 L233.84 399.09 L234.62 398.7 L235.51 398.37 L236.51 398.09 L237.61 397.87 L238.8 397.71 L240.07 397.61 L241.5 397.58 M241.5 388.37 L242.93 388.4 L244.2 388.5 L245.39 388.66 L246.49 388.88 L247.49 389.16 L248.38 389.49 L249.16 389.88 L249.81 390.31 L250.33 390.78 L250.7 391.29 L250.92 391.84 L251 392.45 L250.92 393.07 L250.7 393.61 L250.33 394.12 L249.81 394.59 L249.16 395.03 L248.38 395.41 L247.49 395.74 L246.49 396.02 L245.39 396.25 L244.2 396.41 L242.93 396.5 L241.5 396.54 L240.07 396.5 L238.8 396.41 L237.61 396.25 L236.51 396.02 L235.51 395.74 L234.62 395.41 L233.84 395.03 L233.19 394.59 L232.67 394.12 L232.3 393.61 L232.08 393.07 L232 392.45 L232.08 391.84 L232.3 391.29 L232.67 390.78 L233.19 390.31 L233.84 389.88 L234.62 389.49 L235.51 389.16 L236.51 388.88 L237.61 388.66 L238.8 388.5 L240.07 388.4 L241.5 388.37" fill="none" stroke="rgba(20,255,20,0.68)" stroke-width="1.0" stroke-linejoin="round" stroke-linecap="round"/>
<path d="M233.6 395.99 L232.5 395.52 L231.6 394.83 L230.97 393.97 L230.64 392.99 L230.65 391.99 L230.99 391.02 L231.64 390.16 L232.54 389.48 L233.65 389.01 L234.86 388.81 L236.1 388.88 L237.27 389.22 L238.28 389.81 L239.06 390.59 L239.55 391.51 L239.72 392.51 M239.91 392.51 L240.08 391.48 L240.56 390.51 L241.33 389.69 L242.33 389.05 L243.5 388.66 L244.75 388.52 L246.01 388.66 L247.18 389.05 L248.18 389.69 L248.95 390.51 L249.43 391.48 L249.6 392.51 L249.43 393.54 L248.95 394.5 L248.18 395.33 L247.18 395.97 L246.01 396.36 M240.1 379.12 L241.53 379.15 L242.8 379.25 L243.99 379.41 L245.09 379.63 L246.09 379.91 L246.98 380.24 L247.76 380.63 L248.41 381.06 L248.93 381.53 L249.3 382.04 L249.52 382.59 L249.6 383.2 L249.52 383.82 L249.3 384.37 L248.93 384.88 L248.41 385.35 L247.76 385.78 L246.98 386.16 L246.09 386.5 L245.09 386.78 L243.99 387 L242.8 387.16 L241.53 387.26 L240.1 387.29 L238.67 387.26 L237.4 387.16 L236.21 387 L235.11 386.78 L234.11 386.5 L233.22 386.16 L232.44 385.78 L231.79 385.35 L231.27 384.88 L230.9 384.37 L230.68 383.82 L230.6 383.2 L230.68 382.59 L230.9 382.04 L231.27 381.53 L231.79 381.06 L232.44 380.63 L233.22 380.24 L234.11 379.91 L235.11 379.63 L236.21 379.41 L237.4 379.25 L238.67 379.15 L240.1 379.12 M240.1 369.91 L241.53 369.94 L242.8 370.04 L243.99 370.2 L245.09 370.42 L246.09 370.7 L246.98 371.03 L247.76 371.42 L248.41 371.85 L248.93 372.32 L249.3 372.83 L249.52 373.38 L249.6 373.99 L249.52 374.61 L249.3 375.15 L248.93 375.66 L248.41 376.14 L247.76 376.57 L246.98 376.95 L246.09 377.29 L245.09 377.57 L243.99 377.79 L242.8 377.95 L241.53 378.05 L240.1 378.08 L238.67 378.05 L237.4 377.95 L236.21 377.79 L235.11 377.57 L234.11 377.29 L233.22 376.95 L232.44 376.57 L231.79 376.14 L231.27 375.66 L230.9 375.15 L230.68 374.61 L230.6 373.99 L230.68 373.38 L230.9 372.83 L231.27 372.32 L231.79 371.85 L232.44 371.42 L233.22 371.03 L234.11 370.7 L235.11 370.42 L236.21 370.2 L237.4 370.04 L238.67 369.94 L240.1 369.91 M248.65 367.92 L249.6 367.92 M240.1 356.87 L241.53 356.9 L242.8 357 L243.99 357.16 L245.09 357.38 L246.09 357.66 L246.98 357.99 L247.76 358.38 L248.41 358.81 L248.93 359.28 L249.3 359.79 L249.52 360.34 L249.6 360.95 L249.52 361.57 L249.3 362.11 L248.93 362.62 L248.41 363.09 L247.76 363.53 L246.98 363.91 L246.09 364.24 L245.09 364.52 L243.99 364.75 L242.8 364.91 L241.53 365 L240.1 365.04 L238.67 365 L237.4 364.91 L236.21 364.75 L235.11 364.52 L234.11 364.24 L233.22 363.91 L232.44 363.53 L231.79 363.09 L231.27 362.62 L230.9 362.11 L230.68 361.57 L230.6 360.95 L230.68 360.34 L230.9 359.79 L231.27 359.28 L231.79 358.81 L232.44 358.38 L233.22 357.99 L234.11 357.66 L235.11 357.38 L236.21 357.16 L237.4 357 L238.67 356.9 L240.1 356.87 M240.1 347.65 L241.53 347.69 L242.8 347.78 L243.99 347.94 L245.09 348.17 L246.09 348.45 L246.98 348.78 L247.76 349.17 L248.41 349.6 L248.93 350.07 L249.3 350.58 L249.52 351.13 L249.6 351.74 L249.52 352.35 L249.3 352.9 L248.93 353.41 L248.41 353.88 L247.76 354.31 L246.98 354.7 L246.09 355.03 L245.09 355.31 L243.99 355.53 L242.8 355.7 L241.53 355.79 L240.1 355.82 L238.67 355.79 L237.4 355.7 L236.21 355.53 L235.11 355.31 L234.11 355.03 L233.22 354.7 L232.44 354.31 L231.79 353.88 L231.27 353.41 L230.9 352.9 L230.68 352.35 L230.6 351.74 L230.68 351.13 L230.9 350.58 L231.27 350.07 L231.79 349.6 L232.44 349.17 L233.22 348.78 L234.11 348.45 L235.11 348.17 L236.21 347.94 L237.4 347.78 L238.67 347.69 L240.1 347.65" fill="none" stroke="rgba(20,255,20,0.68)" stroke-width="1.0" stroke-linejoin="round" stroke-linecap="round"/>
<line x1="301.3" y1="463" x2="301.3" y2="496.5" stroke="rgba(20,255,20,0.6)" stroke-width="1"/>
<line x1="295.2" y1="490.1" x2="336.6" y2="490.1" stroke="rgba(20,255,20,0.6)" stroke-width="1"/>
<line x1="296.3" y1="495.1" x2="306.3" y2="485.1" stroke="rgba(20,255,20,0.6)" stroke-width="1"/>
<line x1="324.8" y1="495.1" x2="334.8" y2="485.1" stroke="rgba(20,255,20,0.6)" stroke-width="1"/>
<path d="M307.47 483.1 L307.47 464.5 L301.7 477.71 L309.7 477.71 M319.09 473.8 L319.06 475.2 L318.96 476.45 L318.81 477.61 L318.59 478.68 L318.32 479.66 L317.99 480.54 L317.61 481.3 L317.19 481.94 L316.73 482.44 L316.23 482.8 L315.69 483.03 L315.09 483.1 L314.49 483.03 L313.95 482.8 L313.46 482.44 L312.99 481.94 L312.57 481.3 L312.2 480.54 L311.87 479.66 L311.59 478.68 L311.38 477.61 L311.22 476.45 L311.12 475.2 L311.09 473.8 L311.12 472.4 L311.22 471.15 L311.38 469.99 L311.59 468.92 L311.87 467.94 L312.2 467.06 L312.57 466.3 L312.99 465.66 L313.46 465.16 L313.95 464.8 L314.49 464.57 L315.09 464.5 L315.69 464.57 L316.23 464.8 L316.73 465.16 L317.19 465.66 L317.61 466.3 L317.99 467.06 L318.32 467.94 L318.59 468.92 L318.81 469.99 L318.96 471.15 L319.06 472.4 L319.09 473.8 M328.48 473.8 L328.45 475.2 L328.36 476.45 L328.2 477.61 L327.98 478.68 L327.71 479.66 L327.38 480.54 L327.01 481.3 L326.58 481.94 L326.12 482.44 L325.62 482.8 L325.09 483.03 L324.49 483.1 L323.88 483.03 L323.35 482.8 L322.85 482.44 L322.39 481.94 L321.96 481.3 L321.59 480.54 L321.26 479.66 L320.99 478.68 L320.77 477.61 L320.61 476.45 L320.52 475.2 L320.49 473.8 L320.52 472.4 L320.61 471.15 L320.77 469.99 L320.99 468.92 L321.26 467.94 L321.59 467.06 L321.96 466.3 L322.39 465.66 L322.85 465.16 L323.35 464.8 L323.88 464.57 L324.48 464.5 L325.09 464.57 L325.62 464.8 L326.12 465.16 L326.58 465.66 L327.01 466.3 L327.38 467.06 L327.71 467.94 L327.98 468.92 L328.2 469.99 L328.36 471.15 L328.45 472.4 L328.48 473.8 M330.81 482.17 L330.81 483.1 M341.78 473.8 L341.75 475.2 L341.66 476.45 L341.5 477.61 L341.28 478.68 L341.01 479.66 L340.68 480.54 L340.3 481.3 L339.88 481.94 L339.42 482.44 L338.92 482.8 L338.39 483.03 L337.78 483.1 L337.18 483.03 L336.65 482.8 L336.15 482.44 L335.69 481.94 L335.26 481.3 L334.89 480.54 L334.56 479.66 L334.29 478.68 L334.07 477.61 L333.91 476.45 L333.82 475.2 L333.78 473.8 L333.82 472.4 L333.91 471.15 L334.07 469.99 L334.29 468.92 L334.56 467.94 L334.89 467.06 L335.26 466.3 L335.69 465.66 L336.15 465.16 L336.65 464.8 L337.18 464.57 L337.78 464.5 L338.39 464.57 L338.92 464.8 L339.42 465.16 L339.88 465.66 L340.3 466.3 L340.68 467.06 L341.01 467.94 L341.28 468.92 L341.5 469.99 L341.66 471.15 L341.75 472.4 L341.78 473.8 M351.18 473.8 L351.14 475.2 L351.05 476.45 L350.89 477.61 L350.68 478.68 L350.4 479.66 L350.07 480.54 L349.7 481.3 L349.28 481.94 L348.81 482.44 L348.31 482.8 L347.78 483.03 L347.18 483.1 L346.58 483.03 L346.04 482.8 L345.54 482.44 L345.08 481.94 L344.66 481.3 L344.28 480.54 L343.95 479.66 L343.68 478.68 L343.46 477.61 L343.3 476.45 L343.21 475.2 L343.18 473.8 L343.21 472.4 L343.3 471.15 L343.46 469.99 L343.68 468.92 L343.95 467.94 L344.28 467.06 L344.66 466.3 L345.08 465.66 L345.54 465.16 L346.04 464.8 L346.58 464.57 L347.18 464.5 L347.78 464.57 L348.31 464.8 L348.81 465.16 L349.28 465.66 L349.7 466.3 L350.07 467.06 L350.4 467.94 L350.68 468.92 L350.89 469.99 L351.05 471.15 L351.14 472.4 L351.18 473.8" fill="none" stroke="rgba(20,255,20,0.68)" stroke-width="1.0" stroke-linejoin="round" stroke-linecap="round"/>
<line x1="153.8" y1="444.5" x2="153.8" y2="523" stroke="rgba(20,255,20,0.6)" stroke-width="1"/>
<line x1="0" y1="494.1" x2="15.8" y2="494.1" stroke="rgba(20,255,20,0.6)" stroke-width="1"/>
<path d="M44.16 494.93 L46.76 491.4 L46.76 510 M56.62 500.7 L56.59 502.1 L56.49 503.35 L56.34 504.51 L56.12 505.58 L55.85 506.56 L55.52 507.44 L55.14 508.2 L54.72 508.84 L54.26 509.34 L53.76 509.7 L53.22 509.93 L52.62 510 L52.02 509.93 L51.48 509.7 L50.98 509.34 L50.52 508.84 L50.1 508.2 L49.72 507.44 L49.4 506.56 L49.12 505.58 L48.91 504.51 L48.75 503.35 L48.65 502.1 L48.62 500.7 L48.65 499.3 L48.75 498.05 L48.91 496.89 L49.12 495.82 L49.4 494.84 L49.72 493.96 L50.1 493.2 L50.52 492.56 L50.98 492.06 L51.48 491.7 L52.02 491.47 L52.62 491.4 L53.22 491.47 L53.76 491.7 L54.26 492.06 L54.72 492.56 L55.14 493.2 L55.52 493.96 L55.85 494.84 L56.12 495.82 L56.34 496.89 L56.49 498.05 L56.59 499.3 L56.62 500.7 M65.27 491.4 L58.95 491.4 L58.48 499.77 L58.72 500.63 L59.41 499.49 L60.27 498.65 L61.24 498.19 L62.26 498.12 L63.26 498.45 L64.16 499.17 L64.91 500.22 L65.46 501.53 L65.77 503.01 L65.81 504.57 L65.59 506.08 L65.12 507.46 L64.43 508.61 L63.57 509.44 L62.6 509.91 L61.58 509.98 L60.59 509.64 L59.68 508.92 L58.93 507.87 M75.41 500.7 L75.37 502.1 L75.28 503.35 L75.12 504.51 L74.91 505.58 L74.63 506.56 L74.3 507.44 L73.93 508.2 L73.51 508.84 L73.04 509.34 L72.54 509.7 L72.01 509.93 L71.41 510 L70.81 509.93 L70.27 509.7 L69.77 509.34 L69.31 508.84 L68.89 508.2 L68.51 507.44 L68.18 506.56 L67.91 505.58 L67.69 504.51 L67.53 503.35 L67.44 502.1 L67.41 500.7 L67.44 499.3 L67.53 498.05 L67.69 496.89 L67.91 495.82 L68.18 494.84 L68.51 493.96 L68.89 493.2 L69.31 492.56 L69.77 492.06 L70.27 491.7 L70.81 491.47 L71.41 491.4 L72.01 491.47 L72.54 491.7 L73.04 492.06 L73.51 492.56 L73.93 493.2 L74.3 493.96 L74.63 494.84 L74.91 495.82 L75.12 496.89 L75.28 498.05 L75.37 499.3 L75.41 500.7 M77.73 509.07 L77.73 510 M88.71 500.7 L88.67 502.1 L88.58 503.35 L88.42 504.51 L88.2 505.58 L87.93 506.56 L87.6 507.44 L87.23 508.2 L86.8 508.84 L86.34 509.34 L85.84 509.7 L85.31 509.93 L84.71 510 L84.1 509.93 L83.57 509.7 L83.07 509.34 L82.61 508.84 L82.19 508.2 L81.81 507.44 L81.48 506.56 L81.21 505.58 L80.99 504.51 L80.83 503.35 L80.74 502.1 L80.71 500.7 L80.74 499.3 L80.83 498.05 L80.99 496.89 L81.21 495.82 L81.48 494.84 L81.81 493.96 L82.19 493.2 L82.61 492.56 L83.07 492.06 L83.57 491.7 L84.1 491.47 L84.71 491.4 L85.31 491.47 L85.84 491.7 L86.34 492.06 L86.8 492.56 L87.23 493.2 L87.6 493.96 L87.93 494.84 L88.2 495.82 L88.42 496.89 L88.58 498.05 L88.67 499.3 L88.71 500.7 M98.1 500.7 L98.07 502.1 L97.97 503.35 L97.81 504.51 L97.6 505.58 L97.32 506.56 L97 507.44 L96.62 508.2 L96.2 508.84 L95.74 509.34 L95.24 509.7 L94.7 509.93 L94.1 510 L93.5 509.93 L92.96 509.7 L92.46 509.34 L92 508.84 L91.58 508.2 L91.2 507.44 L90.87 506.56 L90.6 505.58 L90.38 504.51 L90.23 503.35 L90.13 502.1 L90.1 500.7 L90.13 499.3 L90.23 498.05 L90.38 496.89 L90.6 495.82 L90.87 494.84 L91.2 493.96 L91.58 493.2 L92 492.56 L92.46 492.06 L92.96 491.7 L93.5 491.47 L94.1 491.4 L94.7 491.47 L95.24 491.7 L95.74 492.06 L96.2 492.56 L96.62 493.2 L97 493.96 L97.32 494.84 L97.6 495.82 L97.81 496.89 L97.97 498.05 L98.07 499.3 L98.1 500.7" fill="none" stroke="rgba(20,255,20,0.68)" stroke-width="1.0" stroke-linejoin="round" stroke-linecap="round"/>
<path d="M117.75 495.96 L117.63 497.14 L117.29 498.24 L116.74 499.18 L116.03 499.9 L115.2 500.36 L114.31 500.51 L113.42 500.36 L112.59 499.9 L111.87 499.18 L111.33 498.24 L110.98 497.14 L110.87 495.96 L110.98 494.78 L111.33 493.68 L111.87 492.73 L112.59 492.01 L113.42 491.56 L114.31 491.4 L115.2 491.56 L116.03 492.01 L116.74 492.73 L117.29 493.68 L117.63 494.78 L117.75 495.96 M118.21 505.26 L118.08 506.48 L117.69 507.63 L117.07 508.61 L116.26 509.36 L115.32 509.84 L114.31 510 L113.3 509.84 L112.35 509.36 L111.54 508.61 L110.92 507.63 L110.53 506.48 L110.4 505.26 L110.53 504.03 L110.92 502.89 L111.54 501.9 L112.35 501.15 L113.3 500.68 L114.31 500.51 L115.32 500.68 L116.26 501.15 L117.07 501.9 L117.69 502.89 L118.08 504.03 L118.21 505.26 M127.79 500.7 L127.76 502.1 L127.66 503.35 L127.51 504.51 L127.29 505.58 L127.02 506.56 L126.69 507.44 L126.31 508.2 L125.89 508.84 L125.43 509.34 L124.93 509.7 L124.39 509.93 L123.79 510 L123.19 509.93 L122.65 509.7 L122.16 509.34 L121.69 508.84 L121.27 508.2 L120.9 507.44 L120.57 506.56 L120.29 505.58 L120.08 504.51 L119.92 503.35 L119.82 502.1 L119.79 500.7 L119.82 499.3 L119.92 498.05 L120.08 496.89 L120.29 495.82 L120.57 494.84 L120.9 493.96 L121.27 493.2 L121.69 492.56 L122.16 492.06 L122.65 491.7 L123.19 491.47 L123.79 491.4 L124.39 491.47 L124.93 491.7 L125.43 492.06 L125.89 492.56 L126.31 493.2 L126.69 493.96 L127.02 494.84 L127.29 495.82 L127.51 496.89 L127.66 498.05 L127.76 499.3 L127.79 500.7 M137.18 500.7 L137.15 502.1 L137.06 503.35 L136.9 504.51 L136.68 505.58 L136.41 506.56 L136.08 507.44 L135.71 508.2 L135.28 508.84 L134.82 509.34 L134.32 509.7 L133.79 509.93 L133.19 510 L132.58 509.93 L132.05 509.7 L131.55 509.34 L131.09 508.84 L130.66 508.2 L130.29 507.44 L129.96 506.56 L129.69 505.58 L129.47 504.51 L129.31 503.35 L129.22 502.1 L129.19 500.7 L129.22 499.3 L129.31 498.05 L129.47 496.89 L129.69 495.82 L129.96 494.84 L130.29 493.96 L130.66 493.2 L131.09 492.56 L131.55 492.06 L132.05 491.7 L132.58 491.47 L133.19 491.4 L133.79 491.47 L134.32 491.7 L134.82 492.06 L135.28 492.56 L135.71 493.2 L136.08 493.96 L136.41 494.84 L136.68 495.82 L136.9 496.89 L137.06 498.05 L137.15 499.3 L137.18 500.7 M139.51 509.07 L139.51 510 M150.48 500.7 L150.45 502.1 L150.36 503.35 L150.2 504.51 L149.98 505.58 L149.71 506.56 L149.38 507.44 L149 508.2 L148.58 508.84 L148.12 509.34 L147.62 509.7 L147.09 509.93 L146.48 510 L145.88 509.93 L145.35 509.7 L144.85 509.34 L144.39 508.84 L143.96 508.2 L143.59 507.44 L143.26 506.56 L142.99 505.58 L142.77 504.51 L142.61 503.35 L142.52 502.1 L142.49 500.7 L142.52 499.3 L142.61 498.05 L142.77 496.89 L142.99 495.82 L143.26 494.84 L143.59 493.96 L143.96 493.2 L144.39 492.56 L144.85 492.06 L145.35 491.7 L145.88 491.47 L146.48 491.4 L147.09 491.47 L147.62 491.7 L148.12 492.06 L148.58 492.56 L149 493.2 L149.38 493.96 L149.71 494.84 L149.98 495.82 L150.2 496.89 L150.36 498.05 L150.45 499.3 L150.48 500.7 M159.88 500.7 L159.84 502.1 L159.75 503.35 L159.59 504.51 L159.38 505.58 L159.1 506.56 L158.77 507.44 L158.4 508.2 L157.98 508.84 L157.51 509.34 L157.01 509.7 L156.48 509.93 L155.88 510 L155.28 509.93 L154.74 509.7 L154.24 509.34 L153.78 508.84 L153.36 508.2 L152.98 507.44 L152.65 506.56 L152.38 505.58 L152.16 504.51 L152 503.35 L151.91 502.1 L151.88 500.7 L151.91 499.3 L152 498.05 L152.16 496.89 L152.38 495.82 L152.65 494.84 L152.98 493.96 L153.36 493.2 L153.78 492.56 L154.24 492.06 L154.74 491.7 L155.28 491.47 L155.88 491.4 L156.48 491.47 L157.01 491.7 L157.51 492.06 L157.98 492.56 L158.4 493.2 L158.77 493.96 L159.1 494.84 L159.38 495.82 L159.59 496.89 L159.75 498.05 L159.84 499.3 L159.88 500.7" fill="none" stroke="rgba(20,255,20,0.68)" stroke-width="1.0" stroke-linejoin="round" stroke-linecap="round"/>
<line x1="17" y1="516.7" x2="160" y2="516.7" stroke="rgba(20,255,20,0.6)" stroke-width="1"/>
<line x1="18.2" y1="521.7" x2="28.2" y2="511.7" stroke="rgba(20,255,20,0.6)" stroke-width="1"/>
<line x1="148.8" y1="521.7" x2="158.8" y2="511.7" stroke="rgba(20,255,20,0.6)" stroke-width="1"/>
<line x1="509.4" y1="444.6" x2="509.4" y2="482" stroke="rgba(20,255,20,0.6)" stroke-width="1"/>
<line x1="502.4" y1="475.1" x2="675.5" y2="475.1" stroke="rgba(20,255,20,0.6)" stroke-width="1"/>
<line x1="504.4" y1="480.1" x2="514.4" y2="470.1" stroke="rgba(20,255,20,0.6)" stroke-width="1"/>
<line x1="589.4" y1="480.1" x2="599.4" y2="470.1" stroke="rgba(20,255,20,0.6)" stroke-width="1"/>
<line x1="663.3" y1="480.1" x2="673.3" y2="470.1" stroke="rgba(20,255,20,0.6)" stroke-width="1"/>
<path d="M542.55 453.1 L545.13 449.6 L545.13 468 M547.15 454.02 L547.28 452.84 L547.67 451.76 L548.28 450.83 L549.08 450.13 L550 449.71 L550.98 449.6 L551.95 449.81 L552.84 450.32 L553.59 451.09 L554.14 452.07 L554.45 453.19 L554.5 454.37 L554.29 455.53 L547.15 468 L554.7 468 M564.17 458.8 L564.14 460.18 L564.05 461.42 L563.89 462.56 L563.68 463.63 L563.41 464.6 L563.08 465.46 L562.71 466.22 L562.29 466.85 L561.83 467.35 L561.34 467.71 L560.81 467.93 L560.22 468 L559.62 467.93 L559.09 467.71 L558.6 467.35 L558.14 466.85 L557.72 466.22 L557.35 465.46 L557.03 464.6 L556.76 463.63 L556.54 462.56 L556.39 461.42 L556.29 460.18 L556.26 458.8 L556.29 457.42 L556.39 456.18 L556.54 455.04 L556.76 453.97 L557.03 453 L557.35 452.14 L557.72 451.38 L558.14 450.75 L558.6 450.25 L559.09 449.89 L559.62 449.67 L560.22 449.6 L560.81 449.67 L561.34 449.89 L561.83 450.25 L562.29 450.75 L562.71 451.38 L563.08 452.14 L563.41 453 L563.68 453.97 L563.89 455.04 L564.05 456.18 L564.14 457.42 L564.17 458.8 M573.46 458.8 L573.43 460.18 L573.34 461.42 L573.18 462.56 L572.97 463.63 L572.7 464.6 L572.37 465.46 L572 466.22 L571.58 466.85 L571.13 467.35 L570.63 467.71 L570.1 467.93 L569.51 468 L568.91 467.93 L568.38 467.71 L567.89 467.35 L567.43 466.85 L567.01 466.22 L566.64 465.46 L566.32 464.6 L566.05 463.63 L565.83 462.56 L565.68 461.42 L565.58 460.18 L565.55 458.8 L565.58 457.42 L565.68 456.18 L565.83 455.04 L566.05 453.97 L566.32 453 L566.64 452.14 L567.01 451.38 L567.43 450.75 L567.89 450.25 L568.38 449.89 L568.91 449.67 L569.51 449.6 L570.1 449.67 L570.63 449.89 L571.13 450.25 L571.58 450.75 L572 451.38 L572.37 452.14 L572.7 453 L572.97 453.97 L573.18 455.04 L573.34 456.18 L573.43 457.42 L573.46 458.8" fill="none" stroke="rgba(20,255,20,0.68)" stroke-width="1.0" stroke-linejoin="round" stroke-linecap="round"/>
<path d="M615.46 452.93 L618.06 449.4 L618.06 468 M627.92 458.7 L627.89 460.1 L627.79 461.35 L627.64 462.51 L627.42 463.58 L627.15 464.56 L626.82 465.44 L626.44 466.2 L626.02 466.84 L625.56 467.34 L625.06 467.7 L624.52 467.93 L623.92 468 L623.32 467.93 L622.78 467.7 L622.28 467.34 L621.82 466.84 L621.4 466.2 L621.02 465.44 L620.7 464.56 L620.42 463.58 L620.21 462.51 L620.05 461.35 L619.95 460.1 L619.92 458.7 L619.95 457.3 L620.05 456.05 L620.21 454.89 L620.42 453.82 L620.7 452.84 L621.02 451.96 L621.4 451.2 L621.82 450.56 L622.28 450.06 L622.78 449.7 L623.32 449.47 L623.92 449.4 L624.52 449.47 L625.06 449.7 L625.56 450.06 L626.02 450.56 L626.44 451.2 L626.82 451.96 L627.15 452.84 L627.42 453.82 L627.64 454.89 L627.79 456.05 L627.89 457.3 L627.92 458.7 M636.57 449.4 L630.25 449.4 L629.78 457.77 L630.02 458.63 L630.71 457.49 L631.57 456.65 L632.54 456.19 L633.56 456.12 L634.56 456.45 L635.46 457.17 L636.21 458.22 L636.76 459.53 L637.07 461.01 L637.11 462.57 L636.89 464.08 L636.42 465.46 L635.73 466.61 L634.87 467.44 L633.9 467.91 L632.88 467.98 L631.89 467.64 L630.98 466.92 L630.23 465.87 M646.71 458.7 L646.67 460.1 L646.58 461.35 L646.42 462.51 L646.21 463.58 L645.93 464.56 L645.6 465.44 L645.23 466.2 L644.81 466.84 L644.34 467.34 L643.84 467.7 L643.31 467.93 L642.71 468 L642.11 467.93 L641.57 467.7 L641.07 467.34 L640.61 466.84 L640.19 466.2 L639.81 465.44 L639.48 464.56 L639.21 463.58 L638.99 462.51 L638.83 461.35 L638.74 460.1 L638.71 458.7 L638.74 457.3 L638.83 456.05 L638.99 454.89 L639.21 453.82 L639.48 452.84 L639.81 451.96 L640.19 451.2 L640.61 450.56 L641.07 450.06 L641.57 449.7 L642.11 449.47 L642.71 449.4 L643.31 449.47 L643.84 449.7 L644.34 450.06 L644.81 450.56 L645.23 451.2 L645.6 451.96 L645.93 452.84 L646.21 453.82 L646.42 454.89 L646.58 456.05 L646.67 457.3 L646.71 458.7 M649.03 467.07 L649.03 468 M660 458.7 L659.97 460.1 L659.88 461.35 L659.72 462.51 L659.5 463.58 L659.23 464.56 L658.9 465.44 L658.53 466.2 L658.1 466.84 L657.64 467.34 L657.14 467.7 L656.61 467.93 L656.01 468 L655.4 467.93 L654.87 467.7 L654.37 467.34 L653.91 466.84 L653.49 466.2 L653.11 465.44 L652.78 464.56 L652.51 463.58 L652.29 462.51 L652.13 461.35 L652.04 460.1 L652.01 458.7 L652.04 457.3 L652.13 456.05 L652.29 454.89 L652.51 453.82 L652.78 452.84 L653.11 451.96 L653.49 451.2 L653.91 450.56 L654.37 450.06 L654.87 449.7 L655.4 449.47 L656.01 449.4 L656.61 449.47 L657.14 449.7 L657.64 450.06 L658.1 450.56 L658.53 451.2 L658.9 451.96 L659.23 452.84 L659.5 453.82 L659.72 454.89 L659.88 456.05 L659.97 457.3 L660 458.7 M669.4 458.7 L669.37 460.1 L669.27 461.35 L669.11 462.51 L668.9 463.58 L668.62 464.56 L668.3 465.44 L667.92 466.2 L667.5 466.84 L667.04 467.34 L666.54 467.7 L666 467.93 L665.4 468 L664.8 467.93 L664.26 467.7 L663.76 467.34 L663.3 466.84 L662.88 466.2 L662.5 465.44 L662.17 464.56 L661.9 463.58 L661.68 462.51 L661.53 461.35 L661.43 460.1 L661.4 458.7 L661.43 457.3 L661.53 456.05 L661.68 454.89 L661.9 453.82 L662.17 452.84 L662.5 451.96 L662.88 451.2 L663.3 450.56 L663.76 450.06 L664.26 449.7 L664.8 449.47 L665.4 449.4 L666 449.47 L666.54 449.7 L667.04 450.06 L667.5 450.56 L667.92 451.2 L668.3 451.96 L668.62 452.84 L668.9 453.82 L669.11 454.89 L669.27 456.05 L669.37 457.3 L669.4 458.7" fill="none" stroke="rgba(20,255,20,0.68)" stroke-width="1.0" stroke-linejoin="round" stroke-linecap="round"/>
<line x1="715.6" y1="392.8" x2="715.6" y2="500.5" stroke="rgba(20,255,20,0.6)" stroke-width="1"/>
<line x1="710.6" y1="393.4" x2="720.6" y2="403.4" stroke="rgba(20,255,20,0.6)" stroke-width="1"/>
<line x1="710.6" y1="425.3" x2="720.6" y2="435.3" stroke="rgba(20,255,20,0.6)" stroke-width="1"/>
<line x1="710.6" y1="489" x2="720.6" y2="499" stroke="rgba(20,255,20,0.6)" stroke-width="1"/>
<line x1="675.5" y1="494" x2="721.5" y2="494" stroke="rgba(20,255,20,0.6)" stroke-width="1.3"/>
<line x1="698.5" y1="398.4" x2="722" y2="398.4" stroke="rgba(20,255,20,0.6)" stroke-width="1"/>
<path d="M699.1 424.8 L680.4 424.8 L693.68 430.6 L693.68 422.56 M680.4 414.24 L680.4 420.6 L688.81 421.07 L689.68 420.82 L688.53 420.13 L687.69 419.27 L687.22 418.29 L687.15 417.26 L687.49 416.26 L688.21 415.35 L689.27 414.6 L690.59 414.05 L692.08 413.74 L693.64 413.7 L695.16 413.92 L696.55 414.39 L697.7 415.08 L698.54 415.95 L699.01 416.93 L699.08 417.95 L698.74 418.95 L698.02 419.86 L696.96 420.62 M689.75 404.43 L691.16 404.46 L692.41 404.56 L693.58 404.71 L694.66 404.93 L695.64 405.21 L696.52 405.54 L697.29 405.91 L697.93 406.34 L698.44 406.8 L698.8 407.3 L699.03 407.84 L699.1 408.45 L699.03 409.05 L698.8 409.59 L698.44 410.09 L697.93 410.56 L697.29 410.98 L696.52 411.36 L695.64 411.69 L694.66 411.96 L693.58 412.18 L692.41 412.34 L691.16 412.44 L689.75 412.47 L688.34 412.44 L687.09 412.34 L685.92 412.18 L684.84 411.96 L683.86 411.69 L682.98 411.36 L682.21 410.98 L681.57 410.56 L681.06 410.09 L680.7 409.59 L680.47 409.05 L680.4 408.45 L680.47 407.84 L680.7 407.3 L681.06 406.8 L681.57 406.34 L682.21 405.91 L682.98 405.54 L683.86 405.21 L684.84 404.93 L685.92 404.71 L687.09 404.56 L688.34 404.46 L689.75 404.43 M698.16 402.47 L699.1 402.47 M689.75 391.59 L691.16 391.62 L692.41 391.72 L693.58 391.88 L694.66 392.1 L695.64 392.37 L696.52 392.7 L697.29 393.08 L697.93 393.5 L698.44 393.97 L698.8 394.47 L699.03 395.01 L699.1 395.61 L699.03 396.22 L698.8 396.76 L698.44 397.26 L697.93 397.72 L697.29 398.15 L696.52 398.52 L695.64 398.85 L694.66 399.13 L693.58 399.35 L692.41 399.51 L691.16 399.6 L689.75 399.63 L688.34 399.6 L687.09 399.51 L685.92 399.35 L684.84 399.13 L683.86 398.85 L682.98 398.52 L682.21 398.15 L681.57 397.72 L681.06 397.26 L680.7 396.76 L680.47 396.22 L680.4 395.61 L680.47 395.01 L680.7 394.47 L681.06 393.97 L681.57 393.5 L682.21 393.08 L682.98 392.7 L683.86 392.37 L684.84 392.1 L685.92 391.88 L687.09 391.72 L688.34 391.62 L689.75 391.59 M689.75 382.53 L691.16 382.56 L692.41 382.65 L693.58 382.81 L694.66 383.03 L695.64 383.3 L696.52 383.63 L697.29 384.01 L697.93 384.44 L698.44 384.9 L698.8 385.4 L699.03 385.94 L699.1 386.55 L699.03 387.15 L698.8 387.69 L698.44 388.19 L697.93 388.66 L697.29 389.08 L696.52 389.46 L695.64 389.79 L694.66 390.06 L693.58 390.28 L692.41 390.44 L691.16 390.54 L689.75 390.57 L688.34 390.54 L687.09 390.44 L685.92 390.28 L684.84 390.06 L683.86 389.79 L682.98 389.46 L682.21 389.08 L681.57 388.66 L681.06 388.19 L680.7 387.69 L680.47 387.15 L680.4 386.55 L680.47 385.94 L680.7 385.4 L681.06 384.9 L681.57 384.44 L682.21 384.01 L682.98 383.63 L683.86 383.3 L684.84 383.03 L685.92 382.81 L687.09 382.65 L688.34 382.56 L689.75 382.53" fill="none" stroke="rgba(20,255,20,0.68)" stroke-width="1.0" stroke-linejoin="round" stroke-linecap="round"/>
<path d="M695.21 469.23 L696.74 469.37 L698.16 469.78 L699.39 470.44 L700.33 471.29 L700.92 472.29 L701.12 473.36 L700.92 474.43 L700.33 475.43 L699.39 476.29 L698.16 476.95 L696.74 477.36 L695.21 477.5 L693.68 477.36 L692.25 476.95 L691.03 476.29 L690.09 475.43 L689.5 474.43 L689.3 473.36 L689.5 472.29 L690.09 471.29 L691.03 470.44 L692.25 469.78 L693.68 469.37 L695.21 469.23 M695.21 469.23 L703.58 469.23 L703.58 469.23 L704.98 469.37 L706.29 469.78 L707.41 470.44 L708.27 471.29 L708.82 472.29 L709 473.36 L708.82 474.43 L708.27 475.43 L707.41 476.29 L706.29 476.95 L704.98 477.36 M699.15 459.48 L700.63 459.51 L701.95 459.61 L703.18 459.78 L704.32 460.01 L705.36 460.3 L706.29 460.65 L707.09 461.04 L707.77 461.49 L708.3 461.98 L708.69 462.51 L708.92 463.08 L709 463.71 L708.92 464.35 L708.69 464.92 L708.3 465.45 L707.77 465.94 L707.09 466.38 L706.29 466.78 L705.36 467.13 L704.32 467.42 L703.18 467.65 L701.95 467.82 L700.63 467.92 L699.15 467.95 L697.67 467.92 L696.35 467.82 L695.12 467.65 L693.98 467.42 L692.94 467.13 L692.01 466.78 L691.21 466.38 L690.53 465.94 L690 465.45 L689.61 464.92 L689.38 464.35 L689.3 463.71 L689.38 463.08 L689.61 462.51 L690 461.98 L690.53 461.49 L691.21 461.04 L692.01 460.65 L692.94 460.3 L693.98 460.01 L695.12 459.78 L696.35 459.61 L697.67 459.51 L699.15 459.48 M699.15 449.93 L700.63 449.96 L701.95 450.06 L703.18 450.23 L704.32 450.46 L705.36 450.75 L706.29 451.1 L707.09 451.49 L707.77 451.94 L708.3 452.43 L708.69 452.96 L708.92 453.53 L709 454.16 L708.92 454.8 L708.69 455.37 L708.3 455.9 L707.77 456.39 L707.09 456.83 L706.29 457.23 L705.36 457.58 L704.32 457.87 L703.18 458.1 L701.95 458.26 L700.63 458.37 L699.15 458.4 L697.67 458.37 L696.35 458.26 L695.12 458.1 L693.98 457.87 L692.94 457.58 L692.01 457.23 L691.21 456.83 L690.53 456.39 L690 455.9 L689.61 455.37 L689.38 454.8 L689.3 454.16 L689.38 453.53 L689.61 452.96 L690 452.43 L690.53 451.94 L691.21 451.49 L692.01 451.1 L692.94 450.75 L693.98 450.46 L695.12 450.23 L696.35 450.06 L697.67 449.96 L699.15 449.93 M708.01 447.86 L709 447.86 M699.15 436.41 L700.63 436.44 L701.95 436.54 L703.18 436.71 L704.32 436.94 L705.36 437.23 L706.29 437.57 L707.09 437.97 L707.77 438.42 L708.3 438.91 L708.69 439.44 L708.92 440 L709 440.64 L708.92 441.28 L708.69 441.85 L708.3 442.37 L707.77 442.86 L707.09 443.31 L706.29 443.71 L705.36 444.06 L704.32 444.35 L703.18 444.58 L701.95 444.74 L700.63 444.84 L699.15 444.88 L697.67 444.84 L696.35 444.74 L695.12 444.58 L693.98 444.35 L692.94 444.06 L692.01 443.71 L691.21 443.31 L690.53 442.86 L690 442.37 L689.61 441.85 L689.38 441.28 L689.3 440.64 L689.38 440 L689.61 439.44 L690 438.91 L690.53 438.42 L691.21 437.97 L692.01 437.57 L692.94 437.23 L693.98 436.94 L695.12 436.71 L696.35 436.54 L697.67 436.44 L699.15 436.41 M699.15 426.86 L700.63 426.89 L701.95 426.99 L703.18 427.16 L704.32 427.39 L705.36 427.68 L706.29 428.02 L707.09 428.42 L707.77 428.87 L708.3 429.36 L708.69 429.89 L708.92 430.45 L709 431.09 L708.92 431.73 L708.69 432.3 L708.3 432.82 L707.77 433.31 L707.09 433.76 L706.29 434.16 L705.36 434.51 L704.32 434.8 L703.18 435.03 L701.95 435.19 L700.63 435.29 L699.15 435.33 L697.67 435.29 L696.35 435.19 L695.12 435.03 L693.98 434.8 L692.94 434.51 L692.01 434.16 L691.21 433.76 L690.53 433.31 L690 432.82 L689.61 432.3 L689.38 431.73 L689.3 431.09 L689.38 430.45 L689.61 429.89 L690 429.36 L690.53 428.87 L691.21 428.42 L692.01 428.02 L692.94 427.68 L693.98 427.39 L695.12 427.16 L696.35 426.99 L697.67 426.89 L699.15 426.86" fill="none" stroke="rgba(20,255,20,0.68)" stroke-width="1.0" stroke-linejoin="round" stroke-linecap="round"/>
<path d="M284.5 26.96 L284.23 26.05 L283.75 25.24 L283.09 24.6 L282.3 24.18 L281.43 24 L280.55 24.09 L279.73 24.43 L279.02 24.99 L278.47 25.74 L278.12 26.63 L278 27.59 L278 36.01 L278.11 36.94 L278.44 37.81 L278.96 38.55 L279.64 39.12 L280.43 39.48 L281.28 39.6 L282.12 39.48 L282.91 39.12 L283.59 38.55 L284.11 37.81 L284.44 36.94 L284.55 36.01 L284.55 32.58 L281.59 32.58 M285.88 39.6 L285.88 24 L289.47 24 L289.47 24 L290.15 24.13 L290.79 24.5 L291.34 25.09 L291.76 25.85 L292.03 26.75 L292.12 27.7 L292.03 28.66 L291.76 29.56 L291.34 30.32 L290.79 30.91 L290.15 31.28 L289.47 31.41 L285.88 31.41 M289.31 31.41 L289.31 31.41 L290.12 31.55 L290.87 31.96 L291.52 32.61 L292.01 33.46 L292.32 34.45 L292.43 35.51 L292.32 36.56 L292.01 37.55 L291.52 38.4 L290.87 39.05 L290.12 39.46 L289.31 39.6 L285.88 39.6 M293.76 24 L300.31 24 L293.76 39.6 L300.31 39.6 M301.79 27.74 L301.9 26.75 L302.23 25.83 L302.75 25.04 L303.42 24.45 L304.2 24.1 L305.04 24 L305.86 24.18 L306.61 24.61 L307.25 25.26 L307.71 26.09 L307.98 27.04 L308.02 28.05 L307.84 29.02 L301.79 39.6 L308.19 39.6" fill="none" stroke="rgba(0,225,245,0.58)" stroke-width="1.0" stroke-linejoin="round" stroke-linecap="round"/>
<path d="M108.5 180.8 L111.55 187.69 L114.59 180.8 M111.55 187.69 L111.55 195.3 M115.82 195.3 L115.82 180.8 L119.16 180.8 L119.16 180.8 L119.8 180.92 L120.39 181.26 L120.9 181.81 L121.29 182.52 L121.54 183.35 L121.62 184.24 L121.54 185.14 L121.29 185.97 L120.9 186.68 L120.39 187.23 L119.8 187.57 L119.16 187.69 L115.82 187.69 M119.01 187.69 L119.01 187.69 L119.76 187.82 L120.46 188.2 L121.06 188.8 L121.52 189.59 L121.81 190.51 L121.91 191.49 L121.81 192.48 L121.52 193.4 L121.06 194.19 L120.46 194.79 L119.76 195.17 L119.01 195.3 L115.82 195.3 M123.14 180.8 L129.24 180.8 L123.14 195.3 L129.24 195.3 M130.9 183.56 L132.93 180.8 L132.93 195.3" fill="none" stroke="rgba(0,225,245,0.58)" stroke-width="1.0" stroke-linejoin="round" stroke-linecap="round"/>
<path d="M111 231.5 L114.25 238.86 L117.51 231.5 M114.25 238.86 L114.25 247 M118.83 247 L118.83 231.5 L122.39 231.5 L122.39 231.5 L123.07 231.63 L123.71 231.99 L124.26 232.58 L124.67 233.34 L124.94 234.23 L125.03 235.18 L124.94 236.13 L124.67 237.02 L124.26 237.78 L123.71 238.37 L123.07 238.74 L122.39 238.86 L118.83 238.86 M122.24 238.86 L122.24 238.86 L123.04 239 L123.79 239.41 L124.43 240.05 L124.92 240.9 L125.23 241.88 L125.34 242.93 L125.23 243.98 L124.92 244.97 L124.43 245.81 L123.79 246.45 L123.04 246.86 L122.24 247 L118.83 247 M126.66 231.5 L133.16 231.5 L126.66 247 L133.16 247 M134.95 234.44 L137.12 231.5 L137.12 247" fill="none" stroke="rgba(0,225,245,0.58)" stroke-width="1.0" stroke-linejoin="round" stroke-linecap="round"/>
<path d="M301 151 L304.11 158.03 L307.22 151 M304.11 158.03 L304.11 165.8 M308.47 165.8 L308.47 151 L311.88 151 L311.88 151 L312.53 151.12 L313.14 151.47 L313.66 152.03 L314.06 152.76 L314.31 153.61 L314.39 154.51 L314.31 155.42 L314.06 156.27 L313.66 157 L313.14 157.56 L312.53 157.91 L311.88 158.03 L308.47 158.03 M311.73 158.03 L311.73 158.03 L312.5 158.16 L313.21 158.55 L313.82 159.17 L314.29 159.97 L314.59 160.91 L314.69 161.91 L314.59 162.92 L314.29 163.86 L313.82 164.66 L313.21 165.28 L312.5 165.67 L311.73 165.8 L308.47 165.8 M315.95 151 L322.16 151 L315.95 165.8 L322.16 165.8 M323.87 153.81 L325.94 151 L325.94 165.8" fill="none" stroke="rgba(0,225,245,0.58)" stroke-width="1.0" stroke-linejoin="round" stroke-linecap="round"/>
<path d="M291.2 205.5 L294.45 212.86 L297.71 205.5 M294.45 212.86 L294.45 221 M299.03 221 L299.03 205.5 L302.59 205.5 L302.59 205.5 L303.27 205.63 L303.91 205.99 L304.46 206.58 L304.87 207.34 L305.14 208.23 L305.23 209.18 L305.14 210.13 L304.87 211.02 L304.46 211.78 L303.91 212.37 L303.27 212.74 L302.59 212.86 L299.03 212.86 M302.44 212.86 L302.44 212.86 L303.24 213 L303.99 213.41 L304.63 214.05 L305.12 214.9 L305.43 215.88 L305.54 216.93 L305.43 217.98 L305.12 218.97 L304.63 219.81 L303.99 220.45 L303.24 220.86 L302.44 221 L299.03 221 M306.85 205.5 L313.37 205.5 L306.85 221 L313.37 221 M315.15 208.44 L317.32 205.5 L317.32 221" fill="none" stroke="rgba(0,225,245,0.58)" stroke-width="1.0" stroke-linejoin="round" stroke-linecap="round"/>
<path d="M342.67 213.25 L342.64 214.42 L342.56 215.45 L342.43 216.42 L342.25 217.32 L342.02 218.13 L341.75 218.86 L341.43 219.5 L341.08 220.03 L340.7 220.45 L340.28 220.75 L339.83 220.94 L339.33 221 L338.83 220.94 L338.38 220.75 L337.97 220.45 L337.58 220.03 L337.23 219.5 L336.92 218.86 L336.65 218.13 L336.42 217.32 L336.24 216.42 L336.11 215.45 L336.03 214.42 L336 213.25 L336.03 212.08 L336.11 211.05 L336.24 210.08 L336.42 209.18 L336.65 208.37 L336.92 207.64 L337.23 207 L337.58 206.47 L337.97 206.05 L338.38 205.75 L338.83 205.56 L339.33 205.5 L339.83 205.56 L340.28 205.75 L340.7 206.05 L341.08 206.47 L341.43 207 L341.75 207.64 L342.02 208.37 L342.25 209.18 L342.43 210.08 L342.56 211.05 L342.64 212.08 L342.67 213.25 M340.03 217.51 L342.82 221.39 M343.98 209.22 L344.09 208.23 L344.42 207.32 L344.94 206.54 L345.61 205.95 L346.38 205.6 L347.21 205.5 L348.02 205.68 L348.77 206.1 L349.4 206.75 L349.87 207.58 L350.13 208.52 L350.17 209.52 L350 210.49 L343.98 221 L350.34 221" fill="none" stroke="rgba(0,225,245,0.58)" stroke-width="1.0" stroke-linejoin="round" stroke-linecap="round"/>
<path d="M299.32 324.5 L299.3 325.66 L299.22 326.69 L299.09 327.65 L298.91 328.54 L298.68 329.35 L298.41 330.08 L298.1 330.71 L297.75 331.24 L297.37 331.65 L296.95 331.96 L296.51 332.14 L296.01 332.2 L295.51 332.14 L295.07 331.96 L294.66 331.65 L294.27 331.24 L293.92 330.71 L293.61 330.08 L293.34 329.35 L293.11 328.54 L292.94 327.65 L292.81 326.69 L292.73 325.66 L292.7 324.5 L292.73 323.34 L292.81 322.31 L292.94 321.35 L293.11 320.46 L293.34 319.65 L293.61 318.92 L293.92 318.29 L294.27 317.76 L294.66 317.35 L295.07 317.04 L295.51 316.86 L296.01 316.8 L296.51 316.86 L296.95 317.04 L297.37 317.35 L297.75 317.76 L298.1 318.29 L298.41 318.92 L298.68 319.65 L298.91 320.46 L299.09 321.35 L299.22 322.31 L299.3 323.34 L299.32 324.5 M296.7 328.74 L299.48 332.59 M300.63 320.5 L300.74 319.52 L301.06 318.61 L301.58 317.83 L302.24 317.25 L303.01 316.9 L303.84 316.8 L304.65 316.97 L305.39 317.4 L306.02 318.05 L306.48 318.87 L306.74 319.81 L306.78 320.79 L306.61 321.76 L300.63 332.2 L306.94 332.2" fill="none" stroke="rgba(0,225,245,0.58)" stroke-width="1.0" stroke-linejoin="round" stroke-linecap="round"/>
<path d="M265.2 370 L268.41 377.27 L271.63 370 M268.41 377.27 L268.41 385.3 M272.93 385.3 L272.93 370 L276.45 370 L276.45 370 L277.12 370.12 L277.75 370.49 L278.28 371.06 L278.7 371.82 L278.96 372.69 L279.05 373.63 L278.96 374.57 L278.7 375.45 L278.28 376.2 L277.75 376.78 L277.12 377.14 L276.45 377.27 L272.93 377.27 M276.29 377.27 L276.29 377.27 L277.08 377.4 L277.82 377.81 L278.46 378.44 L278.94 379.28 L279.25 380.24 L279.35 381.28 L279.25 382.32 L278.94 383.29 L278.46 384.12 L277.82 384.76 L277.08 385.16 L276.29 385.3 L272.93 385.3 M280.65 370 L287.08 370 L280.65 385.3 L287.08 385.3 M288.53 373.67 L288.64 372.7 L288.96 371.79 L289.47 371.02 L290.13 370.44 L290.9 370.1 L291.72 370 L292.52 370.17 L293.26 370.6 L293.88 371.24 L294.34 372.05 L294.6 372.99 L294.64 373.97 L294.47 374.93 L288.53 385.3 L294.81 385.3 M296.26 373.67 L296.37 372.7 L296.69 371.79 L297.2 371.02 L297.86 370.44 L298.63 370.1 L299.44 370 L300.25 370.17 L300.99 370.6 L301.61 371.24 L302.07 372.05 L302.33 372.99 L302.37 373.97 L302.19 374.93 L296.26 385.3 L302.53 385.3" fill="none" stroke="rgba(0,225,245,0.58)" stroke-width="1.0" stroke-linejoin="round" stroke-linecap="round"/>
<path d="M25.9 398.2 L29.05 405.32 L32.2 398.2 M29.05 405.32 L29.05 413.2 M33.48 413.2 L33.48 398.2 L36.92 398.2 L36.92 398.2 L37.58 398.32 L38.2 398.68 L38.73 399.24 L39.13 399.98 L39.39 400.84 L39.47 401.76 L39.39 402.68 L39.13 403.54 L38.73 404.28 L38.2 404.85 L37.58 405.2 L36.92 405.32 L33.48 405.32 M36.77 405.32 L36.77 405.32 L37.55 405.46 L38.27 405.85 L38.9 406.48 L39.37 407.29 L39.67 408.24 L39.77 409.26 L39.67 410.28 L39.37 411.23 L38.9 412.05 L38.27 412.67 L37.55 413.07 L36.77 413.2 L33.48 413.2 M41.05 398.2 L47.35 398.2 L41.05 413.2 L47.35 413.2 M49.03 400.57 L49.4 399.7 L49.94 398.99 L50.63 398.49 L51.39 398.23 L52.19 398.24 L52.95 398.5 L53.63 399.02 L54.17 399.74 L54.53 400.61 L54.69 401.56 L54.64 402.54 L54.37 403.46 L53.91 404.26 L53.29 404.88 L52.56 405.27 L51.78 405.4 M51.77 405.55 L52.59 405.68 L53.35 406.06 L54 406.67 L54.5 407.46 L54.82 408.39 L54.92 409.38 L54.82 410.36 L54.5 411.29 L54 412.08 L53.35 412.69 L52.59 413.07 L51.77 413.2 L50.96 413.07 L50.2 412.69 L49.55 412.08 L49.05 411.29 L48.73 410.36 M62.65 405.7 L62.62 406.83 L62.55 407.83 L62.42 408.77 L62.25 409.64 L62.03 410.43 L61.76 411.13 L61.46 411.75 L61.12 412.26 L60.74 412.67 L60.34 412.96 L59.91 413.14 L59.43 413.2 L58.94 413.14 L58.51 412.96 L58.11 412.67 L57.73 412.26 L57.39 411.75 L57.09 411.13 L56.82 410.43 L56.6 409.64 L56.43 408.77 L56.3 407.83 L56.23 406.83 L56.2 405.7 L56.23 404.57 L56.3 403.57 L56.43 402.63 L56.6 401.76 L56.82 400.97 L57.09 400.27 L57.39 399.65 L57.73 399.14 L58.11 398.73 L58.51 398.44 L58.94 398.26 L59.42 398.2 L59.91 398.26 L60.34 398.44 L60.74 398.73 L61.12 399.14 L61.46 399.65 L61.76 400.27 L62.03 400.97 L62.25 401.76 L62.42 402.63 L62.55 403.57 L62.62 404.57 L62.65 405.7" fill="none" stroke="rgba(0,225,245,0.58)" stroke-width="1.0" stroke-linejoin="round" stroke-linecap="round"/>
<path d="M515.8 396.9 L519.1 404.36 L522.39 396.9 M519.1 404.36 L519.1 412.6 M523.73 412.6 L523.73 396.9 L527.34 396.9 L527.34 396.9 L528.03 397.03 L528.67 397.4 L529.23 397.99 L529.65 398.76 L529.92 399.66 L530.01 400.63 L529.92 401.59 L529.65 402.49 L529.23 403.27 L528.67 403.86 L528.03 404.23 L527.34 404.36 L523.73 404.36 M527.18 404.36 L527.18 404.36 L528 404.5 L528.75 404.91 L529.4 405.56 L529.9 406.42 L530.22 407.41 L530.32 408.48 L530.22 409.55 L529.9 410.54 L529.4 411.39 L528.75 412.05 L528 412.46 L527.18 412.6 L523.73 412.6 M531.66 396.9 L538.25 396.9 L531.66 412.6 L538.25 412.6 M540.01 399.38 L540.39 398.47 L540.97 397.73 L541.68 397.2 L542.48 396.93 L543.32 396.94 L544.12 397.22 L544.82 397.76 L545.39 398.51 L545.77 399.42 L545.94 400.42 L545.88 401.44 L545.6 402.41 L545.12 403.24 L544.47 403.89 L543.71 404.3 L542.88 404.44 M542.88 404.59 L543.74 404.73 L544.53 405.13 L545.21 405.77 L545.74 406.59 L546.07 407.56 L546.18 408.6 L546.07 409.63 L545.74 410.6 L545.21 411.43 L544.53 412.06 L543.74 412.46 L542.88 412.6 L542.03 412.46 L541.23 412.06 L540.55 411.43 L540.03 410.6 L539.7 409.63 M547.67 400.67 L547.78 399.67 L548.11 398.74 L548.64 397.95 L549.31 397.36 L550.1 397 L550.94 396.9 L551.77 397.08 L552.52 397.51 L553.16 398.17 L553.63 399.01 L553.9 399.96 L553.94 400.97 L553.76 401.96 L547.67 412.6 L554.11 412.6" fill="none" stroke="rgba(0,225,245,0.58)" stroke-width="1.0" stroke-linejoin="round" stroke-linecap="round"/>
<path d="M341.82 455.3 L341.8 456.46 L341.72 457.49 L341.59 458.45 L341.41 459.34 L341.18 460.15 L340.91 460.88 L340.6 461.51 L340.25 462.04 L339.87 462.45 L339.45 462.76 L339.01 462.94 L338.51 463 L338.01 462.94 L337.57 462.76 L337.16 462.45 L336.77 462.04 L336.42 461.51 L336.11 460.88 L335.84 460.15 L335.61 459.34 L335.44 458.45 L335.31 457.49 L335.23 456.46 L335.2 455.3 L335.23 454.14 L335.31 453.11 L335.44 452.15 L335.61 451.26 L335.84 450.45 L336.11 449.72 L336.42 449.09 L336.77 448.56 L337.16 448.15 L337.57 447.84 L338.01 447.66 L338.51 447.6 L339.01 447.66 L339.45 447.84 L339.87 448.15 L340.25 448.56 L340.6 449.09 L340.91 449.72 L341.18 450.45 L341.41 451.26 L341.59 452.15 L341.72 453.11 L341.8 454.14 L341.82 455.3 M339.2 459.54 L341.98 463.39 M343.13 451.3 L343.24 450.32 L343.56 449.41 L344.08 448.63 L344.74 448.05 L345.51 447.7 L346.34 447.6 L347.15 447.77 L347.89 448.2 L348.52 448.85 L348.98 449.67 L349.24 450.61 L349.28 451.59 L349.11 452.56 L343.13 463 L349.44 463" fill="none" stroke="rgba(0,225,245,0.58)" stroke-width="1.0" stroke-linejoin="round" stroke-linecap="round"/>
<rect x="763.4" y="62.2" width="21.2" height="20.9" rx="3" fill="#363a46"/>
<rect x="763.4" y="102.2" width="21.2" height="21.2" rx="3" fill="#363a46"/>
<g fill="none" stroke="#7d80f0" stroke-width="1.1"><rect x="769.6" y="68.9" width="8.8" height="8.8"/><circle cx="769.6" cy="68.9" r="1.2" fill="#363a46"/><circle cx="778.4" cy="68.9" r="1.2" fill="#363a46"/><circle cx="769.6" cy="77.7" r="1.2" fill="#363a46"/><circle cx="778.4" cy="77.7" r="1.2" fill="#363a46"/><rect x="768.6" y="108" width="11" height="7" rx="1.2"/><rect x="770.6" y="109.9" width="2.8" height="3.4"/><rect x="774.8" y="109.9" width="2.8" height="3.4"/><path d="M768.3 117.6 H780"/></g>
</svg>

<div id="top" class="abs">
  <div class="t" style="left:19px;top:9.5px;font-size:9px;color:#d6d9e0">显示错误点:</div>
  <div class="abs" style="left:70px;top:8px;width:24px;height:12px;border-radius:6px;background:#dcdfe6"></div>
  <div class="abs" style="left:70.5px;top:8.5px;width:11px;height:11px;border-radius:50%;background:#fff"></div>
  <svg class="abs" style="left:914px;top:5px" width="66" height="18" viewBox="0 0 66 18">
    <g fill="none" stroke="#e9ebef" stroke-width="1.3" stroke-linejoin="round" stroke-linecap="round">
      <path d="M4 3.3 H10.3 L13.4 6.4 V14.4 Q13.4 15.4 12.4 15.4 H4 Q3.1 15.4 3.1 14.4 V4.3 Q3.1 3.3 4 3.3 Z"/>
      <path d="M10.3 3.5 V6.4 H13.2" stroke-width="1"/>
      <path d="M8.4 8.3 V11.8 M7.1 10.6 L8.4 11.9 L9.7 10.6 M6.3 13.4 H10.8"/>
      <path d="M3.6 15.2 H12.9" stroke-width="1.6"/>
      <path d="M30.8 15.4 H27 Q26.1 15.4 26.1 14.4 V4.3 Q26.1 3.3 27 3.3 H33.3 L36.4 6.4 V9.8"/>
      <path d="M33.3 3.5 V6.4 H36.2" stroke-width="1"/>
      <path d="M32.9 15 L36.9 11.3 L37.9 12.3 L33.9 16 Z" stroke-width="0.9"/>
      <path d="M55 4 H52.5 Q50.6 4 50.6 5.9 V13.5 Q50.6 15.4 52.5 15.4 H60 Q61.9 15.4 61.9 13.5 V10.8"/>
      <path d="M56.4 9.4 L61.6 4.2 M58 3.7 H62.1 V7.8"/>
    </g>
  </svg>
</div>

<div id="panel" class="abs">
  <!-- AI header -->
  <div class="abs" style="left:0;top:0;width:206px;height:31px;background:#3a4cb5"></div>
  <svg class="abs" style="left:12px;top:9.5px" width="11" height="12" viewBox="0 0 11 12"><g fill="none" stroke="#e6e9f7" stroke-width="1.1"><path d="M3 1 H1 V11 H9.8 V1 H7.8"/><path d="M4.2 1 H6.6"/><path d="M4.3 3.6 L5.6 4.6 L4.3 5.6 Z" fill="#e6e9f7"/><path d="M3.3 7.6 H7.6 M3.3 9.2 H7.6" stroke-width="0.9"/></g></svg>
  <div class="t" style="left:28px;top:10.8px;font-size:10.3px;color:#f0f2fa">AI审图概述</div>
  <div class="chev" style="left:191px;top:13.5px"></div>
  <div class="abs" style="left:0;top:31px;width:206px;height:2.5px;background:#2d313b"></div>
  <!-- 1# row -->
  <div class="abs" style="left:0;top:33.5px;width:206px;height:29.2px;background:#4a62d7"></div>
  <div class="t" style="left:12.5px;top:43.5px;font-size:10px;font-weight:bold;color:#eef0fb">1#...</div>
  <div id="m1" class="t" style="left:37px;top:44.5px;font-size:8px;color:#e3e7f8;word-spacing:0.5px">(违反强条:<span style="color:#e8476a">1</span> | 一般意见:<span style="color:#e8476a">6</span> | 计算书对比:<span style="color:#e8476a">82</span>)</div>
  <div class="chevd" style="left:191.5px;top:44.5px"></div>
  <!-- 违反强条 row -->
  <div class="abs" style="left:0;top:62.7px;width:206px;height:24px;background:#3e4a8b"></div>
  <div class="t" style="left:12.5px;top:71px;font-size:9px;color:#e3e6f2">违反强条 (1)</div>
  <div class="chevd" style="left:191.5px;top:71.5px"></div>
  <!-- content -->
  <div class="t" style="left:9.6px;top:97px;font-size:9.2px;font-weight:bold;color:#f5891c">《工程结构通用规范》 <span style="letter-spacing:0.5px">GB55001-2021</span></div>
  <div class="sep" style="top:116px"></div>
  <div class="abs" style="left:11.5px;top:126.8px;width:15.5px;height:10px;border:1px solid #4262b8;border-radius:5px"></div>
  <div class="t" style="left:14px;top:127.6px;font-size:8.4px;color:#e5e7ef">01</div>
  <div class="t" style="left:32px;top:126.5px;font-size:9.7px;color:#e5e7ef">3.1.12</div>
  <div class="sep" style="top:146px"></div>
  <div class="abs" style="left:12px;top:155.5px;width:20px;height:11px;background:#4a3540;border-radius:1px"></div>
  <div class="t" style="left:13.8px;top:156.8px;font-size:8.2px;color:#e0403c">校审</div>
  <div class="t" style="left:39.5px;top:156.5px;font-size:9px;color:#e5e7ef">住宅的结构重要性系数γ₀=1.0。</div>
  <div class="abs" style="left:181.5px;top:155.5px;width:10.5px;height:10.5px;border-radius:50%;background:#3b4c9c"></div>
  <div class="t" style="left:184.5px;top:157px;font-size:8px;color:#fff;font-weight:bold">1</div>
  <div class="sep" style="top:176px"></div>
  <!-- location box -->
  <div class="abs" style="left:12px;top:181.5px;width:183px;height:42px;border:1px solid #5b606c;border-radius:2px"></div>
  <svg class="abs" style="left:21px;top:196.5px" width="7" height="10" viewBox="0 0 7 10"><path d="M3.5 0.3 C1.5 0.3 0.3 1.8 0.3 3.5 C0.3 5.8 3.5 9.5 3.5 9.5 C3.5 9.5 6.7 5.8 6.7 3.5 C6.7 1.8 5.5 0.3 3.5 0.3 Z M3.5 2.3 A1.2 1.2 0 1 0 3.5 4.7 A1.2 1.2 0 1 0 3.5 2.3 Z" fill="#e8413d" fill-rule="evenodd"/></svg>
  <div class="t" style="left:33.5px;top:189.5px;font-size:9px;color:#e5e7ef;word-spacing:1.1px">1#楼 | JG-10 | 1#楼一层楼面 ~</div>
  <div class="t" style="left:33.5px;top:204px;font-size:8.8px;color:#e5e7ef">五层楼面剪力墙平面图</div>
  <svg class="abs" style="left:171px;top:196.5px" width="9" height="10" viewBox="0 0 9 10"><g fill="none" stroke="#e88a2a" stroke-width="1"><path d="M6.5 1 H1 V9.3 H8 V5"/><path d="M3 7 L3.5 5.3 L7.5 1.3 L8.5 2.3 L4.5 6.3 Z M2.5 3.5 H5 M2.5 5 H3.5"/></g></svg>
  <!-- 一般意见 -->
  <div class="abs" style="left:0;top:220.5px;width:206px;height:22.5px;background:#3e4b8b"></div>
  <div class="abs" style="left:0;top:243px;width:206px;height:1px;background:#3b4577"></div>
  <div class="t" style="left:12px;top:228px;font-size:9px;color:#e3e6f2">一般意见 (6)</div>
  <div class="chev" style="left:190px;top:230.5px"></div>
  <div class="abs" style="left:0;top:244px;width:206px;height:23.5px;background:#3e4b8b"></div>
  <div class="t" style="left:12px;top:251.5px;font-size:9px;color:#e3e6f2">计算书对比 (82)</div>
  <div class="chev" style="left:190px;top:253.5px"></div>
  <div class="abs" style="left:0;top:267.5px;width:206px;height:1.5px;background:#2f333d"></div>
  <!-- green -->
  <div class="abs" style="left:0;top:269px;width:206px;height:31px;background:#1f8a3b"></div>
  <svg class="abs" style="left:12.5px;top:280px" width="10" height="11" viewBox="0 0 10 11"><g fill="none" stroke="#e8f3ea" stroke-width="1.1"><rect x="0.6" y="1" width="8.8" height="9.4" rx="0.5"/><path d="M3.3 0.5 H6.7 M2.8 5.5 L4.3 7 L7 4.2"/></g></svg>
  <div class="t" style="left:28px;top:279.8px;font-size:10.3px;color:#f0f7f1">已审查规范 (44)</div>
  <div class="chev" style="left:190px;top:282.5px"></div>
  <!-- helper -->
  <div class="abs" style="left:174.2px;top:331.2px;width:17.9px;height:73.8px;border-radius:9px;background:#3e63ec"></div>
  <svg class="abs" style="left:170px;top:331px" width="24" height="19" viewBox="0 0 24 19">
    <path d="M1.4 4.7 L5.5 3.6 C7.5 1.2 10.5 0.3 13.5 0.3 C19 0.3 21.5 3.5 21.5 7.5 C21.5 11.8 17.5 14.5 13 14.5 C8 14.5 4.8 11.5 4.6 7.5 Z" fill="#f4f6fb"/>
    <rect x="10.8" y="13.5" width="6" height="3" rx="1" fill="#dfe4f0"/>
    <rect x="7" y="5.2" width="12.5" height="6.2" rx="3.1" fill="#0e3c9e"/>
    <rect x="9.6" y="6.5" width="2" height="3" rx="1" fill="#27e3f5"/>
    <rect x="15.6" y="6.5" width="2" height="3" rx="1" fill="#27e3f5"/>
  </svg>
  <div class="t" style="left:179px;top:352.5px;font-size:7.5px;color:#fff;line-height:9.7px;width:8px;white-space:normal">小帮助手</div>
  <div class="abs" style="left:178.8px;top:391.8px;width:8px;height:8px;border-radius:50%;background:#fff"></div>
  <div class="abs" style="left:180.6px;top:394.5px;width:3px;height:3px;border-right:1.1px solid #3a5ee6;border-top:1.1px solid #3a5ee6;transform:rotate(45deg)"></div>
</div>
<div class="abs" style="left:999px;top:0;width:1px;height:536px;background:rgba(255,255,255,0.18)"></div>

<!-- floating manual review -->
<div class="abs" style="left:728px;top:421px;width:70px;height:20.5px;background:#3b3f4b;border-radius:3px 0 0 3px"></div>
<div class="abs" style="left:734.5px;top:424.8px;width:13px;height:13px;border-radius:50%;background:#4a5ff0"></div>
<div class="abs" style="left:738.5px;top:430.7px;width:5px;height:1.4px;background:#fff"></div>
<div class="abs" style="left:740.3px;top:428.9px;width:1.4px;height:5px;background:#fff"></div>
<div class="t" style="left:752.5px;top:426.5px;font-size:9px;color:#eceef4">人工校审</div>
<div class="abs" style="left:728px;top:446.5px;width:66px;height:49px;background:#4e5563;border-radius:3px 0 0 3px"></div>
<div class="abs" style="left:738.5px;top:450.5px;width:45.5px;height:20px;border:1.8px solid #e84a36;border-radius:2.5px"></div>
<div class="t" style="left:743px;top:457.5px;font-size:9px;color:#eceef4">违反规范</div>
<div class="t" style="left:743px;top:477.5px;font-size:9px;color:#eceef4">其他意见</div>

<!-- bottom tabs -->
<div class="abs" style="left:26px;top:503px;width:66px;height:18.5px;background:#3f5ef0;border-radius:3px 0 0 3px"></div>
<div class="abs" style="left:92px;top:503px;width:67px;height:18.5px;background:#22252e;border-radius:0 3px 3px 0"></div>
<div class="t" style="left:49.8px;top:508px;font-size:9.2px;color:#eef0fa">模型</div>
<div class="t" style="left:113px;top:508px;font-size:9.2px;color:#eef0fa">布局1</div>
<!-- left expand button -->
<div class="abs" style="left:-5.8px;top:275.3px;width:13.4px;height:13.4px;border-radius:50%;background:#4d68f5"></div>
<div class="abs" style="left:-0.5px;top:280.3px;width:3.5px;height:3.5px;border-right:1.1px solid #fff;border-top:1.1px solid #fff;transform:rotate(45deg)"></div>
</div>
</body></html>
